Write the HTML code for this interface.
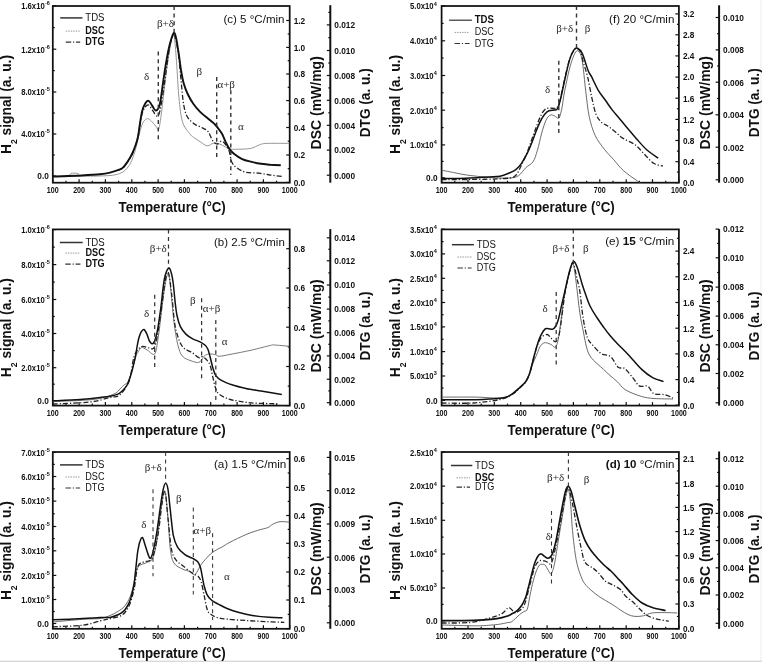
<!DOCTYPE html>
<html><head><meta charset="utf-8"><style>
html,body{margin:0;padding:0;background:#fff;}
body{width:762px;height:662px;overflow:hidden;}
svg{display:block;will-change:transform;}
text{-webkit-font-smoothing:antialiased;}
</style></head><body>
<svg width="762" height="662" viewBox="0 0 762 662">
<rect x="0" y="0" width="762" height="662" fill="#fff"/>
<rect x="760" y="0" width="2" height="662" fill="#f6f6f6"/>
<rect x="0" y="660.6" width="762" height="1.4" fill="#dadada"/>
<rect x="52.8" y="6" width="236.9" height="176.7" fill="none" stroke="#111" stroke-width="1.75"/>
<line x1="52.8" y1="182.7" x2="52.8" y2="179.2" stroke="#111" stroke-width="1.2"/>
<text x="52.8" y="192.8" font-size="9.4" font-weight="bold" font-family='"Liberation Sans", sans-serif' text-anchor="middle" fill="#111" textLength="11.9" lengthAdjust="spacingAndGlyphs">100</text>
<line x1="66" y1="182.7" x2="66" y2="180.7" stroke="#111" stroke-width="1.2"/>
<line x1="79.1" y1="182.7" x2="79.1" y2="179.2" stroke="#111" stroke-width="1.2"/>
<text x="79.1" y="192.8" font-size="9.4" font-weight="bold" font-family='"Liberation Sans", sans-serif' text-anchor="middle" fill="#111" textLength="11.9" lengthAdjust="spacingAndGlyphs">200</text>
<line x1="92.3" y1="182.7" x2="92.3" y2="180.7" stroke="#111" stroke-width="1.2"/>
<line x1="105.4" y1="182.7" x2="105.4" y2="179.2" stroke="#111" stroke-width="1.2"/>
<text x="105.4" y="192.8" font-size="9.4" font-weight="bold" font-family='"Liberation Sans", sans-serif' text-anchor="middle" fill="#111" textLength="11.9" lengthAdjust="spacingAndGlyphs">300</text>
<line x1="118.6" y1="182.7" x2="118.6" y2="180.7" stroke="#111" stroke-width="1.2"/>
<line x1="131.8" y1="182.7" x2="131.8" y2="179.2" stroke="#111" stroke-width="1.2"/>
<text x="131.8" y="192.8" font-size="9.4" font-weight="bold" font-family='"Liberation Sans", sans-serif' text-anchor="middle" fill="#111" textLength="11.9" lengthAdjust="spacingAndGlyphs">400</text>
<line x1="144.9" y1="182.7" x2="144.9" y2="180.7" stroke="#111" stroke-width="1.2"/>
<line x1="158.1" y1="182.7" x2="158.1" y2="179.2" stroke="#111" stroke-width="1.2"/>
<text x="158.1" y="192.8" font-size="9.4" font-weight="bold" font-family='"Liberation Sans", sans-serif' text-anchor="middle" fill="#111" textLength="11.9" lengthAdjust="spacingAndGlyphs">500</text>
<line x1="171.2" y1="182.7" x2="171.2" y2="180.7" stroke="#111" stroke-width="1.2"/>
<line x1="184.4" y1="182.7" x2="184.4" y2="179.2" stroke="#111" stroke-width="1.2"/>
<text x="184.4" y="192.8" font-size="9.4" font-weight="bold" font-family='"Liberation Sans", sans-serif' text-anchor="middle" fill="#111" textLength="11.9" lengthAdjust="spacingAndGlyphs">600</text>
<line x1="197.6" y1="182.7" x2="197.6" y2="180.7" stroke="#111" stroke-width="1.2"/>
<line x1="210.7" y1="182.7" x2="210.7" y2="179.2" stroke="#111" stroke-width="1.2"/>
<text x="210.7" y="192.8" font-size="9.4" font-weight="bold" font-family='"Liberation Sans", sans-serif' text-anchor="middle" fill="#111" textLength="11.9" lengthAdjust="spacingAndGlyphs">700</text>
<line x1="223.9" y1="182.7" x2="223.9" y2="180.7" stroke="#111" stroke-width="1.2"/>
<line x1="237.1" y1="182.7" x2="237.1" y2="179.2" stroke="#111" stroke-width="1.2"/>
<text x="237.1" y="192.8" font-size="9.4" font-weight="bold" font-family='"Liberation Sans", sans-serif' text-anchor="middle" fill="#111" textLength="11.9" lengthAdjust="spacingAndGlyphs">800</text>
<line x1="250.2" y1="182.7" x2="250.2" y2="180.7" stroke="#111" stroke-width="1.2"/>
<line x1="263.4" y1="182.7" x2="263.4" y2="179.2" stroke="#111" stroke-width="1.2"/>
<text x="263.4" y="192.8" font-size="9.4" font-weight="bold" font-family='"Liberation Sans", sans-serif' text-anchor="middle" fill="#111" textLength="11.9" lengthAdjust="spacingAndGlyphs">900</text>
<line x1="276.5" y1="182.7" x2="276.5" y2="180.7" stroke="#111" stroke-width="1.2"/>
<line x1="289.7" y1="182.7" x2="289.7" y2="179.2" stroke="#111" stroke-width="1.2"/>
<text x="289.7" y="192.8" font-size="9.4" font-weight="bold" font-family='"Liberation Sans", sans-serif' text-anchor="middle" fill="#111" textLength="15.8" lengthAdjust="spacingAndGlyphs">1000</text>
<text x="172.2" y="211.8" font-size="14.4" font-weight="bold" font-family='"Liberation Sans", sans-serif' text-anchor="middle" fill="#111" textLength="107.2" lengthAdjust="spacingAndGlyphs">Temperature (°C)</text>
<text x="48.8" y="179.3" font-size="9.4" font-weight="bold" font-family='"Liberation Sans", sans-serif' text-anchor="end" fill="#111" textLength="11.5" lengthAdjust="spacingAndGlyphs">0.0</text>
<line x1="52.8" y1="176" x2="56.3" y2="176" stroke="#111" stroke-width="1.2"/>
<text x="44.7" y="137.3" font-size="9.4" font-weight="bold" font-family='"Liberation Sans", sans-serif' text-anchor="end" fill="#111" textLength="23.5" lengthAdjust="spacingAndGlyphs">4.0x10</text>
<text x="44.9" y="133.4" font-size="5.5" font-weight="bold" font-family='"Liberation Sans", sans-serif' text-anchor="start" fill="#111">-5</text>
<line x1="52.8" y1="134" x2="56.3" y2="134" stroke="#111" stroke-width="1.2"/>
<text x="44.7" y="95.3" font-size="9.4" font-weight="bold" font-family='"Liberation Sans", sans-serif' text-anchor="end" fill="#111" textLength="23.5" lengthAdjust="spacingAndGlyphs">8.0x10</text>
<text x="44.9" y="91.4" font-size="5.5" font-weight="bold" font-family='"Liberation Sans", sans-serif' text-anchor="start" fill="#111">-5</text>
<line x1="52.8" y1="92" x2="56.3" y2="92" stroke="#111" stroke-width="1.2"/>
<text x="44.7" y="52.5" font-size="9.4" font-weight="bold" font-family='"Liberation Sans", sans-serif' text-anchor="end" fill="#111" textLength="23.5" lengthAdjust="spacingAndGlyphs">1.2x10</text>
<text x="44.9" y="48.6" font-size="5.5" font-weight="bold" font-family='"Liberation Sans", sans-serif' text-anchor="start" fill="#111">-6</text>
<line x1="52.8" y1="49.2" x2="56.3" y2="49.2" stroke="#111" stroke-width="1.2"/>
<text x="44.7" y="9.3" font-size="9.4" font-weight="bold" font-family='"Liberation Sans", sans-serif' text-anchor="end" fill="#111" textLength="23.5" lengthAdjust="spacingAndGlyphs">1.6x10</text>
<text x="44.9" y="5.4" font-size="5.5" font-weight="bold" font-family='"Liberation Sans", sans-serif' text-anchor="start" fill="#111">-6</text>
<line x1="52.8" y1="6" x2="56.3" y2="6" stroke="#111" stroke-width="1.2"/>
<line x1="52.8" y1="155" x2="54.8" y2="155" stroke="#111" stroke-width="1.2"/>
<line x1="52.8" y1="113" x2="54.8" y2="113" stroke="#111" stroke-width="1.2"/>
<line x1="52.8" y1="70.6" x2="54.8" y2="70.6" stroke="#111" stroke-width="1.2"/>
<line x1="52.8" y1="27.6" x2="54.8" y2="27.6" stroke="#111" stroke-width="1.2"/>
<text transform="translate(10.8 104.5) rotate(-90)" font-size="14.4" font-weight="bold" font-family='"Liberation Sans", sans-serif' text-anchor="middle" fill="#111" textLength="99" lengthAdjust="spacingAndGlyphs">H<tspan font-size="9" dy="5.9">2</tspan><tspan dy="-5.9"> signal (a. u.)</tspan></text>
<text x="293.7" y="185.7" font-size="9.4" font-weight="bold" font-family='"Liberation Sans", sans-serif' text-anchor="start" fill="#111" textLength="11.5" lengthAdjust="spacingAndGlyphs">0.0</text>
<line x1="289.7" y1="182.4" x2="286.2" y2="182.4" stroke="#111" stroke-width="1.2"/>
<text x="293.7" y="158.3" font-size="9.4" font-weight="bold" font-family='"Liberation Sans", sans-serif' text-anchor="start" fill="#111" textLength="11.5" lengthAdjust="spacingAndGlyphs">0.2</text>
<line x1="289.7" y1="155" x2="286.2" y2="155" stroke="#111" stroke-width="1.2"/>
<text x="293.7" y="130.8" font-size="9.4" font-weight="bold" font-family='"Liberation Sans", sans-serif' text-anchor="start" fill="#111" textLength="11.5" lengthAdjust="spacingAndGlyphs">0.4</text>
<line x1="289.7" y1="127.5" x2="286.2" y2="127.5" stroke="#111" stroke-width="1.2"/>
<text x="293.7" y="103.9" font-size="9.4" font-weight="bold" font-family='"Liberation Sans", sans-serif' text-anchor="start" fill="#111" textLength="11.5" lengthAdjust="spacingAndGlyphs">0.6</text>
<line x1="289.7" y1="100.6" x2="286.2" y2="100.6" stroke="#111" stroke-width="1.2"/>
<text x="293.7" y="77.3" font-size="9.4" font-weight="bold" font-family='"Liberation Sans", sans-serif' text-anchor="start" fill="#111" textLength="11.5" lengthAdjust="spacingAndGlyphs">0.8</text>
<line x1="289.7" y1="74" x2="286.2" y2="74" stroke="#111" stroke-width="1.2"/>
<text x="293.7" y="50.7" font-size="9.4" font-weight="bold" font-family='"Liberation Sans", sans-serif' text-anchor="start" fill="#111" textLength="11.5" lengthAdjust="spacingAndGlyphs">1.0</text>
<line x1="289.7" y1="47.4" x2="286.2" y2="47.4" stroke="#111" stroke-width="1.2"/>
<text x="293.7" y="23.8" font-size="9.4" font-weight="bold" font-family='"Liberation Sans", sans-serif' text-anchor="start" fill="#111" textLength="11.5" lengthAdjust="spacingAndGlyphs">1.2</text>
<line x1="289.7" y1="20.5" x2="286.2" y2="20.5" stroke="#111" stroke-width="1.2"/>
<line x1="289.7" y1="168.7" x2="287.7" y2="168.7" stroke="#111" stroke-width="1.2"/>
<line x1="289.7" y1="141.2" x2="287.7" y2="141.2" stroke="#111" stroke-width="1.2"/>
<line x1="289.7" y1="114" x2="287.7" y2="114" stroke="#111" stroke-width="1.2"/>
<line x1="289.7" y1="87.3" x2="287.7" y2="87.3" stroke="#111" stroke-width="1.2"/>
<line x1="289.7" y1="60.7" x2="287.7" y2="60.7" stroke="#111" stroke-width="1.2"/>
<line x1="289.7" y1="34" x2="287.7" y2="34" stroke="#111" stroke-width="1.2"/>
<text transform="translate(321.2 102.8) rotate(-90)" font-size="14.4" font-weight="bold" font-family='"Liberation Sans", sans-serif' text-anchor="middle" fill="#111" textLength="93.2" lengthAdjust="spacingAndGlyphs">DSC (mW/mg)</text>
<line x1="330.3" y1="5.2" x2="330.3" y2="182.7" stroke="#111" stroke-width="2"/>
<text x="334.3" y="178.5" font-size="9.4" font-weight="bold" font-family='"Liberation Sans", sans-serif' text-anchor="start" fill="#111" textLength="20.8" lengthAdjust="spacingAndGlyphs">0.000</text>
<line x1="330.3" y1="175.2" x2="326.8" y2="175.2" stroke="#111" stroke-width="1.2"/>
<text x="334.3" y="153.4" font-size="9.4" font-weight="bold" font-family='"Liberation Sans", sans-serif' text-anchor="start" fill="#111" textLength="20.8" lengthAdjust="spacingAndGlyphs">0.002</text>
<line x1="330.3" y1="150.1" x2="326.8" y2="150.1" stroke="#111" stroke-width="1.2"/>
<text x="334.3" y="128.6" font-size="9.4" font-weight="bold" font-family='"Liberation Sans", sans-serif' text-anchor="start" fill="#111" textLength="20.8" lengthAdjust="spacingAndGlyphs">0.004</text>
<line x1="330.3" y1="125.3" x2="326.8" y2="125.3" stroke="#111" stroke-width="1.2"/>
<text x="334.3" y="103.6" font-size="9.4" font-weight="bold" font-family='"Liberation Sans", sans-serif' text-anchor="start" fill="#111" textLength="20.8" lengthAdjust="spacingAndGlyphs">0.006</text>
<line x1="330.3" y1="100.3" x2="326.8" y2="100.3" stroke="#111" stroke-width="1.2"/>
<text x="334.3" y="78.8" font-size="9.4" font-weight="bold" font-family='"Liberation Sans", sans-serif' text-anchor="start" fill="#111" textLength="20.8" lengthAdjust="spacingAndGlyphs">0.008</text>
<line x1="330.3" y1="75.5" x2="326.8" y2="75.5" stroke="#111" stroke-width="1.2"/>
<text x="334.3" y="53.8" font-size="9.4" font-weight="bold" font-family='"Liberation Sans", sans-serif' text-anchor="start" fill="#111" textLength="20.8" lengthAdjust="spacingAndGlyphs">0.010</text>
<line x1="330.3" y1="50.5" x2="326.8" y2="50.5" stroke="#111" stroke-width="1.2"/>
<text x="334.3" y="28.2" font-size="9.4" font-weight="bold" font-family='"Liberation Sans", sans-serif' text-anchor="start" fill="#111" textLength="20.8" lengthAdjust="spacingAndGlyphs">0.012</text>
<line x1="330.3" y1="24.9" x2="326.8" y2="24.9" stroke="#111" stroke-width="1.2"/>
<line x1="330.3" y1="162.6" x2="328.3" y2="162.6" stroke="#111" stroke-width="1.2"/>
<line x1="330.3" y1="137.7" x2="328.3" y2="137.7" stroke="#111" stroke-width="1.2"/>
<line x1="330.3" y1="112.8" x2="328.3" y2="112.8" stroke="#111" stroke-width="1.2"/>
<line x1="330.3" y1="87.9" x2="328.3" y2="87.9" stroke="#111" stroke-width="1.2"/>
<line x1="330.3" y1="63" x2="328.3" y2="63" stroke="#111" stroke-width="1.2"/>
<line x1="330.3" y1="37.7" x2="328.3" y2="37.7" stroke="#111" stroke-width="1.2"/>
<line x1="330.3" y1="12.4" x2="328.3" y2="12.4" stroke="#111" stroke-width="1.2"/>
<text transform="translate(369.9 102.8) rotate(-90)" font-size="14.4" font-weight="bold" font-family='"Liberation Sans", sans-serif' text-anchor="middle" fill="#111" textLength="69" lengthAdjust="spacingAndGlyphs">DTG (a. u.)</text>
<line x1="60.2" y1="17.9" x2="82.5" y2="17.9" stroke="#333" stroke-width="1.5"/>
<text x="85.3" y="20.9" font-size="10" font-weight="normal" font-family='"Liberation Sans", sans-serif' text-anchor="start" fill="#111" textLength="19.2" lengthAdjust="spacingAndGlyphs">TDS</text>
<line x1="65.7" y1="31.1" x2="80.2" y2="31.1" stroke="#999" stroke-width="1" stroke-dasharray="1.5 1"/>
<text x="85.3" y="34.1" font-size="10" font-weight="bold" font-family='"Liberation Sans", sans-serif' text-anchor="start" fill="#111" textLength="19.2" lengthAdjust="spacingAndGlyphs">DSC</text>
<line x1="65.7" y1="42.1" x2="80.2" y2="42.1" stroke="#333" stroke-width="1.2" stroke-dasharray="5.5 1.8 1.2 1.8"/>
<text x="85.3" y="45.1" font-size="10" font-weight="bold" font-family='"Liberation Sans", sans-serif' text-anchor="start" fill="#111" textLength="19.2" lengthAdjust="spacingAndGlyphs">DTG</text>
<text x="284.5" y="23.1" font-size="11.2" font-family='"Liberation Sans", sans-serif' text-anchor="end" fill="#111" textLength="61.1" lengthAdjust="spacingAndGlyphs"><tspan font-weight="normal">(c) 5 °C/min</tspan></text>
<clipPath id="clipc"><rect x="52.8" y="6" width="236.9" height="176.7"/></clipPath>
<g clip-path="url(#clipc)">
<path d="M52.8 176.5 C55.3 176.5 65 177 68 176.5 C71 176 69.3 174 71 173.5 C72.7 173 76.3 173.1 78 173.5 C79.7 173.9 75.7 175.7 81 176 C86.3 176.3 103.2 176.1 110 175.5 C116.8 174.9 119 173.9 122 172.5 C125 171.1 126.4 169 128 167 C129.6 165 130.4 163.6 131.7 160.6 C133 157.6 134.3 153.5 135.6 149 C136.9 144.5 138.2 137.9 139.4 133.6 C140.6 129.3 141.5 125.7 142.6 123.3 C143.7 120.9 144.8 120.2 145.8 119.4 C146.8 118.7 147.3 118.4 148.4 118.8 C149.5 119.2 151 120.7 152.3 122 C153.6 123.3 155 125.3 156.1 126.5 C157.2 127.7 157.8 131.1 158.7 129.1 C159.6 127.1 160.6 119.1 161.3 114.3 C162 109.5 162.1 107.6 163 100 C163.9 92.4 165.4 78.6 166.8 68.5 C168.2 58.4 170.4 45.1 171.6 39.5 C172.8 33.9 173.2 31.1 174 34.7 C174.8 38.3 175.7 50.8 176.5 61.3 C177.3 71.8 177.9 87.4 178.9 97.5 C179.9 107.6 180.7 115.7 182.5 121.7 C184.3 127.8 187.7 131 189.8 133.8 C191.9 136.6 193.2 136.9 195 138.3 C196.8 139.7 198.6 140.8 200.7 142.1 C202.8 143.3 205.1 145.7 207.3 145.8 C209.5 146 211.9 143.3 213.9 143 C215.9 142.7 217.6 143.4 219.5 144 C221.4 144.6 223.5 146 225.2 146.8 C226.9 147.7 227.1 148.7 229.9 149.1 C232.7 149.5 238.6 149.2 242.2 149.1 C245.8 149 248.8 149 251.6 148.3 C254.4 147.6 256.7 145.7 259.2 144.9 C261.7 144.1 261.7 143.7 266.7 143.4 C271.7 143.2 285.5 143.4 289.3 143.4" fill="none" stroke="#8a8a8a" stroke-width="0.9"/>
<path d="M118 170.5 C118.9 170 122.1 168.8 123.6 167.5 C125.1 166.2 126.1 164.1 127.2 162.5 C128.3 160.9 129.4 159.4 130.3 157.8 C131.2 156.2 131.9 154.8 132.7 153 C133.5 151.2 134.4 148.9 135.1 147 C135.8 145.1 136.3 143.5 136.9 141.5 C137.5 139.5 138 137.4 138.4 135 C138.8 132.6 139 130.5 139.6 127 C140.2 123.5 141.1 117.3 142 114 C142.9 110.7 144.1 108.5 145.2 107 C146.3 105.5 147.5 104.5 148.7 105 C149.9 105.5 150.8 108.2 152.3 110 C153.9 111.8 156.4 117.7 158 116 C159.6 114.3 160.7 107.3 162 100 C163.3 92.7 164.7 81.2 166 72 C167.3 62.8 168.7 51.2 170 45 C171.3 38.8 172.8 34.5 174 35 C175.2 35.5 176.6 43.2 177.5 48 C178.4 52.8 178.9 58.2 179.5 64 C180.1 69.8 180.6 76.2 181.3 83 C182 89.8 182.7 99.2 183.7 104.8 C184.7 110.4 185.5 113.6 187.3 116.8 C189.1 120 192.1 122.2 194.6 124.1 C197.1 125.9 200.2 126.6 202.5 127.9 C204.8 129.2 206.5 129.5 208.2 131.7 C209.9 133.9 211.3 139 212.9 141.1 C214.5 143.2 216.2 144 217.6 144 C219 144 220.1 141.1 221.4 141.1 C222.7 141.1 223.9 142.4 225.2 144 C226.5 145.6 227.9 147.6 229 150.6 C230.1 153.6 230.6 159.1 231.8 161.9 C233.1 164.7 234.2 165.8 236.5 167.5 C238.8 169.2 242.1 171.4 245.9 172.3 C249.7 173.2 255.1 172.7 259.2 173.2 C263.3 173.7 266.7 174.6 270.5 175.1 C274.3 175.6 279.9 176.2 281.8 176.4" fill="none" stroke="#222" stroke-width="1.3" stroke-dasharray="5 2 1.2 2"/>
<path d="M52.8 176.5 C57.6 176.3 73.6 175.9 81.5 175.5 C89.4 175.1 95.2 174.8 100 174.3 C104.8 173.8 106.7 173.4 110 172.6 C113.3 171.8 117.7 170.3 120 169.4 C122.3 168.5 122.4 168.2 123.6 167 C124.8 165.8 126.1 163.8 127.2 162.2 C128.3 160.6 129.4 158.9 130.3 157.3 C131.2 155.7 131.9 154.3 132.7 152.5 C133.5 150.7 134.4 148.4 135.1 146.5 C135.8 144.6 136.3 143 136.9 141 C137.5 139 138 137 138.4 134.5 C138.8 132 139 129.8 139.6 126 C140.2 122.2 141.1 115.5 142 111.7 C142.9 107.9 144.1 105.2 145.2 103.4 C146.3 101.6 147.5 100.4 148.7 100.8 C149.9 101.2 151.2 104.3 152.3 105.9 C153.4 107.5 154.4 110.1 155.5 110.4 C156.6 110.7 157.8 109.6 158.7 107.9 C159.5 106.2 159.6 105.9 160.6 100.1 C161.6 94.3 163 82.2 164.4 73.3 C165.8 64.4 167.5 53.5 169.2 46.8 C170.9 40 173 32.2 174.5 32.8 C176 33.4 177.1 44.3 178.2 50.4 C179.3 56.5 180 64 180.9 69.5 C181.8 75 182.5 79 183.6 83.1 C184.7 87.2 186.1 90.6 187.7 94 C189.3 97.4 191.1 100.6 193.1 103.5 C195.1 106.4 197.2 108.9 199.9 111.6 C202.6 114.3 207 117.6 209.5 119.8 C212 122 213.4 122.9 215 124.5 C216.6 126.1 217.8 127.8 219 129.5 C220.2 131.2 221.2 132.2 222.4 134.5 C223.6 136.8 224.8 140.5 226.1 143 C227.3 145.5 228.5 147.7 229.9 149.6 C231.3 151.5 232.6 152.7 234.6 154.3 C236.6 155.9 239.4 157.8 242.2 159.1 C245 160.4 248.5 161.1 251.6 161.9 C254.7 162.7 257.9 163.3 261 163.8 C264.1 164.3 267.2 164.4 270.5 164.7 C273.8 164.9 279.1 165.2 280.8 165.3" fill="none" stroke="#111" stroke-width="1.9" stroke-linejoin="round"/>
<line x1="158.3" y1="51.6" x2="158.3" y2="139.8" stroke="#333" stroke-width="1.4" stroke-dasharray="4 3.6"/>
<line x1="174.1" y1="6" x2="174.1" y2="33" stroke="#333" stroke-width="1.4" stroke-dasharray="4 3.6"/>
<line x1="216.7" y1="77" x2="216.7" y2="157.2" stroke="#333" stroke-width="1.4" stroke-dasharray="4 3.6"/>
<line x1="230.8" y1="90.2" x2="230.8" y2="175.1" stroke="#333" stroke-width="1.4" stroke-dasharray="4 3.6"/>
</g>
<text x="146.7" y="80" font-size="11" font-weight="normal" font-family='"Liberation Serif", serif' text-anchor="middle" fill="#2a2a2a">δ</text>
<text x="165.5" y="27" font-size="11" font-weight="normal" font-family='"Liberation Serif", serif' text-anchor="middle" fill="#2a2a2a">β+δ</text>
<text x="199.2" y="75" font-size="11" font-weight="normal" font-family='"Liberation Serif", serif' text-anchor="middle" fill="#2a2a2a">β</text>
<text x="226.2" y="88" font-size="11" font-weight="normal" font-family='"Liberation Serif", serif' text-anchor="middle" fill="#2a2a2a">α+β</text>
<text x="240.8" y="129.5" font-size="11" font-weight="normal" font-family='"Liberation Serif", serif' text-anchor="middle" fill="#2a2a2a">α</text>
<rect x="441.6" y="6" width="237.3" height="176.7" fill="none" stroke="#111" stroke-width="1.75"/>
<line x1="441.6" y1="182.7" x2="441.6" y2="179.2" stroke="#111" stroke-width="1.2"/>
<text x="441.6" y="192.8" font-size="9.4" font-weight="bold" font-family='"Liberation Sans", sans-serif' text-anchor="middle" fill="#111" textLength="11.9" lengthAdjust="spacingAndGlyphs">100</text>
<line x1="454.8" y1="182.7" x2="454.8" y2="180.7" stroke="#111" stroke-width="1.2"/>
<line x1="468" y1="182.7" x2="468" y2="179.2" stroke="#111" stroke-width="1.2"/>
<text x="468" y="192.8" font-size="9.4" font-weight="bold" font-family='"Liberation Sans", sans-serif' text-anchor="middle" fill="#111" textLength="11.9" lengthAdjust="spacingAndGlyphs">200</text>
<line x1="481.2" y1="182.7" x2="481.2" y2="180.7" stroke="#111" stroke-width="1.2"/>
<line x1="494.3" y1="182.7" x2="494.3" y2="179.2" stroke="#111" stroke-width="1.2"/>
<text x="494.3" y="192.8" font-size="9.4" font-weight="bold" font-family='"Liberation Sans", sans-serif' text-anchor="middle" fill="#111" textLength="11.9" lengthAdjust="spacingAndGlyphs">300</text>
<line x1="507.5" y1="182.7" x2="507.5" y2="180.7" stroke="#111" stroke-width="1.2"/>
<line x1="520.7" y1="182.7" x2="520.7" y2="179.2" stroke="#111" stroke-width="1.2"/>
<text x="520.7" y="192.8" font-size="9.4" font-weight="bold" font-family='"Liberation Sans", sans-serif' text-anchor="middle" fill="#111" textLength="11.9" lengthAdjust="spacingAndGlyphs">400</text>
<line x1="533.9" y1="182.7" x2="533.9" y2="180.7" stroke="#111" stroke-width="1.2"/>
<line x1="547.1" y1="182.7" x2="547.1" y2="179.2" stroke="#111" stroke-width="1.2"/>
<text x="547.1" y="192.8" font-size="9.4" font-weight="bold" font-family='"Liberation Sans", sans-serif' text-anchor="middle" fill="#111" textLength="11.9" lengthAdjust="spacingAndGlyphs">500</text>
<line x1="560.2" y1="182.7" x2="560.2" y2="180.7" stroke="#111" stroke-width="1.2"/>
<line x1="573.4" y1="182.7" x2="573.4" y2="179.2" stroke="#111" stroke-width="1.2"/>
<text x="573.4" y="192.8" font-size="9.4" font-weight="bold" font-family='"Liberation Sans", sans-serif' text-anchor="middle" fill="#111" textLength="11.9" lengthAdjust="spacingAndGlyphs">600</text>
<line x1="586.6" y1="182.7" x2="586.6" y2="180.7" stroke="#111" stroke-width="1.2"/>
<line x1="599.8" y1="182.7" x2="599.8" y2="179.2" stroke="#111" stroke-width="1.2"/>
<text x="599.8" y="192.8" font-size="9.4" font-weight="bold" font-family='"Liberation Sans", sans-serif' text-anchor="middle" fill="#111" textLength="11.9" lengthAdjust="spacingAndGlyphs">700</text>
<line x1="613" y1="182.7" x2="613" y2="180.7" stroke="#111" stroke-width="1.2"/>
<line x1="626.2" y1="182.7" x2="626.2" y2="179.2" stroke="#111" stroke-width="1.2"/>
<text x="626.2" y="192.8" font-size="9.4" font-weight="bold" font-family='"Liberation Sans", sans-serif' text-anchor="middle" fill="#111" textLength="11.9" lengthAdjust="spacingAndGlyphs">800</text>
<line x1="639.4" y1="182.7" x2="639.4" y2="180.7" stroke="#111" stroke-width="1.2"/>
<line x1="652.5" y1="182.7" x2="652.5" y2="179.2" stroke="#111" stroke-width="1.2"/>
<text x="652.5" y="192.8" font-size="9.4" font-weight="bold" font-family='"Liberation Sans", sans-serif' text-anchor="middle" fill="#111" textLength="11.9" lengthAdjust="spacingAndGlyphs">900</text>
<line x1="665.7" y1="182.7" x2="665.7" y2="180.7" stroke="#111" stroke-width="1.2"/>
<line x1="678.9" y1="182.7" x2="678.9" y2="179.2" stroke="#111" stroke-width="1.2"/>
<text x="678.9" y="192.8" font-size="9.4" font-weight="bold" font-family='"Liberation Sans", sans-serif' text-anchor="middle" fill="#111" textLength="15.8" lengthAdjust="spacingAndGlyphs">1000</text>
<text x="561.2" y="211.8" font-size="14.4" font-weight="bold" font-family='"Liberation Sans", sans-serif' text-anchor="middle" fill="#111" textLength="107.2" lengthAdjust="spacingAndGlyphs">Temperature (°C)</text>
<text x="437.6" y="181.2" font-size="9.4" font-weight="bold" font-family='"Liberation Sans", sans-serif' text-anchor="end" fill="#111" textLength="11.5" lengthAdjust="spacingAndGlyphs">0.0</text>
<line x1="441.6" y1="177.9" x2="445.1" y2="177.9" stroke="#111" stroke-width="1.2"/>
<text x="433.5" y="148.2" font-size="9.4" font-weight="bold" font-family='"Liberation Sans", sans-serif' text-anchor="end" fill="#111" textLength="23.5" lengthAdjust="spacingAndGlyphs">1.0x10</text>
<text x="433.7" y="144.3" font-size="5.5" font-weight="bold" font-family='"Liberation Sans", sans-serif' text-anchor="start" fill="#111">4</text>
<line x1="441.6" y1="144.9" x2="445.1" y2="144.9" stroke="#111" stroke-width="1.2"/>
<text x="433.5" y="113.5" font-size="9.4" font-weight="bold" font-family='"Liberation Sans", sans-serif' text-anchor="end" fill="#111" textLength="23.5" lengthAdjust="spacingAndGlyphs">2.0x10</text>
<text x="433.7" y="109.6" font-size="5.5" font-weight="bold" font-family='"Liberation Sans", sans-serif' text-anchor="start" fill="#111">4</text>
<line x1="441.6" y1="110.2" x2="445.1" y2="110.2" stroke="#111" stroke-width="1.2"/>
<text x="433.5" y="78.8" font-size="9.4" font-weight="bold" font-family='"Liberation Sans", sans-serif' text-anchor="end" fill="#111" textLength="23.5" lengthAdjust="spacingAndGlyphs">3.0x10</text>
<text x="433.7" y="74.9" font-size="5.5" font-weight="bold" font-family='"Liberation Sans", sans-serif' text-anchor="start" fill="#111">4</text>
<line x1="441.6" y1="75.5" x2="445.1" y2="75.5" stroke="#111" stroke-width="1.2"/>
<text x="433.5" y="44.1" font-size="9.4" font-weight="bold" font-family='"Liberation Sans", sans-serif' text-anchor="end" fill="#111" textLength="23.5" lengthAdjust="spacingAndGlyphs">4.0x10</text>
<text x="433.7" y="40.2" font-size="5.5" font-weight="bold" font-family='"Liberation Sans", sans-serif' text-anchor="start" fill="#111">4</text>
<line x1="441.6" y1="40.8" x2="445.1" y2="40.8" stroke="#111" stroke-width="1.2"/>
<text x="433.5" y="9.4" font-size="9.4" font-weight="bold" font-family='"Liberation Sans", sans-serif' text-anchor="end" fill="#111" textLength="23.5" lengthAdjust="spacingAndGlyphs">5.0x10</text>
<text x="433.7" y="5.5" font-size="5.5" font-weight="bold" font-family='"Liberation Sans", sans-serif' text-anchor="start" fill="#111">4</text>
<line x1="441.6" y1="6.1" x2="445.1" y2="6.1" stroke="#111" stroke-width="1.2"/>
<line x1="441.6" y1="161.4" x2="443.6" y2="161.4" stroke="#111" stroke-width="1.2"/>
<line x1="441.6" y1="127.6" x2="443.6" y2="127.6" stroke="#111" stroke-width="1.2"/>
<line x1="441.6" y1="92.8" x2="443.6" y2="92.8" stroke="#111" stroke-width="1.2"/>
<line x1="441.6" y1="58.1" x2="443.6" y2="58.1" stroke="#111" stroke-width="1.2"/>
<line x1="441.6" y1="23.4" x2="443.6" y2="23.4" stroke="#111" stroke-width="1.2"/>
<text transform="translate(400.3 104.5) rotate(-90)" font-size="14.4" font-weight="bold" font-family='"Liberation Sans", sans-serif' text-anchor="middle" fill="#111" textLength="99" lengthAdjust="spacingAndGlyphs">H<tspan font-size="9" dy="5.9">2</tspan><tspan dy="-5.9"> signal (a. u.)</tspan></text>
<text x="682.9" y="185.9" font-size="9.4" font-weight="bold" font-family='"Liberation Sans", sans-serif' text-anchor="start" fill="#111" textLength="11.5" lengthAdjust="spacingAndGlyphs">0.0</text>
<line x1="678.9" y1="182.6" x2="675.4" y2="182.6" stroke="#111" stroke-width="1.2"/>
<text x="682.9" y="165" font-size="9.4" font-weight="bold" font-family='"Liberation Sans", sans-serif' text-anchor="start" fill="#111" textLength="11.5" lengthAdjust="spacingAndGlyphs">0.4</text>
<line x1="678.9" y1="161.7" x2="675.4" y2="161.7" stroke="#111" stroke-width="1.2"/>
<text x="682.9" y="143.8" font-size="9.4" font-weight="bold" font-family='"Liberation Sans", sans-serif' text-anchor="start" fill="#111" textLength="11.5" lengthAdjust="spacingAndGlyphs">0.8</text>
<line x1="678.9" y1="140.5" x2="675.4" y2="140.5" stroke="#111" stroke-width="1.2"/>
<text x="682.9" y="122.7" font-size="9.4" font-weight="bold" font-family='"Liberation Sans", sans-serif' text-anchor="start" fill="#111" textLength="11.5" lengthAdjust="spacingAndGlyphs">1.2</text>
<line x1="678.9" y1="119.4" x2="675.4" y2="119.4" stroke="#111" stroke-width="1.2"/>
<text x="682.9" y="101.5" font-size="9.4" font-weight="bold" font-family='"Liberation Sans", sans-serif' text-anchor="start" fill="#111" textLength="11.5" lengthAdjust="spacingAndGlyphs">1.6</text>
<line x1="678.9" y1="98.2" x2="675.4" y2="98.2" stroke="#111" stroke-width="1.2"/>
<text x="682.9" y="80.4" font-size="9.4" font-weight="bold" font-family='"Liberation Sans", sans-serif' text-anchor="start" fill="#111" textLength="11.5" lengthAdjust="spacingAndGlyphs">2.0</text>
<line x1="678.9" y1="77.1" x2="675.4" y2="77.1" stroke="#111" stroke-width="1.2"/>
<text x="682.9" y="59.2" font-size="9.4" font-weight="bold" font-family='"Liberation Sans", sans-serif' text-anchor="start" fill="#111" textLength="11.5" lengthAdjust="spacingAndGlyphs">2.4</text>
<line x1="678.9" y1="55.9" x2="675.4" y2="55.9" stroke="#111" stroke-width="1.2"/>
<text x="682.9" y="38.1" font-size="9.4" font-weight="bold" font-family='"Liberation Sans", sans-serif' text-anchor="start" fill="#111" textLength="11.5" lengthAdjust="spacingAndGlyphs">2.8</text>
<line x1="678.9" y1="34.8" x2="675.4" y2="34.8" stroke="#111" stroke-width="1.2"/>
<text x="682.9" y="17.2" font-size="9.4" font-weight="bold" font-family='"Liberation Sans", sans-serif' text-anchor="start" fill="#111" textLength="11.5" lengthAdjust="spacingAndGlyphs">3.2</text>
<line x1="678.9" y1="13.9" x2="675.4" y2="13.9" stroke="#111" stroke-width="1.2"/>
<line x1="678.9" y1="172.1" x2="676.9" y2="172.1" stroke="#111" stroke-width="1.2"/>
<line x1="678.9" y1="151.1" x2="676.9" y2="151.1" stroke="#111" stroke-width="1.2"/>
<line x1="678.9" y1="129.9" x2="676.9" y2="129.9" stroke="#111" stroke-width="1.2"/>
<line x1="678.9" y1="108.8" x2="676.9" y2="108.8" stroke="#111" stroke-width="1.2"/>
<line x1="678.9" y1="87.7" x2="676.9" y2="87.7" stroke="#111" stroke-width="1.2"/>
<line x1="678.9" y1="66.5" x2="676.9" y2="66.5" stroke="#111" stroke-width="1.2"/>
<line x1="678.9" y1="45.3" x2="676.9" y2="45.3" stroke="#111" stroke-width="1.2"/>
<line x1="678.9" y1="24.3" x2="676.9" y2="24.3" stroke="#111" stroke-width="1.2"/>
<text transform="translate(710.4 102.8) rotate(-90)" font-size="14.4" font-weight="bold" font-family='"Liberation Sans", sans-serif' text-anchor="middle" fill="#111" textLength="93.2" lengthAdjust="spacingAndGlyphs">DSC (mW/mg)</text>
<line x1="719.1" y1="5.3" x2="719.1" y2="182.7" stroke="#111" stroke-width="2"/>
<text x="723.1" y="183.1" font-size="9.4" font-weight="bold" font-family='"Liberation Sans", sans-serif' text-anchor="start" fill="#111" textLength="20.8" lengthAdjust="spacingAndGlyphs">0.000</text>
<line x1="719.1" y1="179.8" x2="715.6" y2="179.8" stroke="#111" stroke-width="1.2"/>
<text x="723.1" y="150.5" font-size="9.4" font-weight="bold" font-family='"Liberation Sans", sans-serif' text-anchor="start" fill="#111" textLength="20.8" lengthAdjust="spacingAndGlyphs">0.002</text>
<line x1="719.1" y1="147.2" x2="715.6" y2="147.2" stroke="#111" stroke-width="1.2"/>
<text x="723.1" y="118.1" font-size="9.4" font-weight="bold" font-family='"Liberation Sans", sans-serif' text-anchor="start" fill="#111" textLength="20.8" lengthAdjust="spacingAndGlyphs">0.004</text>
<line x1="719.1" y1="114.8" x2="715.6" y2="114.8" stroke="#111" stroke-width="1.2"/>
<text x="723.1" y="85.5" font-size="9.4" font-weight="bold" font-family='"Liberation Sans", sans-serif' text-anchor="start" fill="#111" textLength="20.8" lengthAdjust="spacingAndGlyphs">0.006</text>
<line x1="719.1" y1="82.2" x2="715.6" y2="82.2" stroke="#111" stroke-width="1.2"/>
<text x="723.1" y="53.2" font-size="9.4" font-weight="bold" font-family='"Liberation Sans", sans-serif' text-anchor="start" fill="#111" textLength="20.8" lengthAdjust="spacingAndGlyphs">0.008</text>
<line x1="719.1" y1="49.9" x2="715.6" y2="49.9" stroke="#111" stroke-width="1.2"/>
<text x="723.1" y="20.8" font-size="9.4" font-weight="bold" font-family='"Liberation Sans", sans-serif' text-anchor="start" fill="#111" textLength="20.8" lengthAdjust="spacingAndGlyphs">0.010</text>
<line x1="719.1" y1="17.5" x2="715.6" y2="17.5" stroke="#111" stroke-width="1.2"/>
<line x1="719.1" y1="163.5" x2="717.1" y2="163.5" stroke="#111" stroke-width="1.2"/>
<line x1="719.1" y1="131" x2="717.1" y2="131" stroke="#111" stroke-width="1.2"/>
<line x1="719.1" y1="98.5" x2="717.1" y2="98.5" stroke="#111" stroke-width="1.2"/>
<line x1="719.1" y1="66" x2="717.1" y2="66" stroke="#111" stroke-width="1.2"/>
<line x1="719.1" y1="33.7" x2="717.1" y2="33.7" stroke="#111" stroke-width="1.2"/>
<text transform="translate(758.7 102.8) rotate(-90)" font-size="14.4" font-weight="bold" font-family='"Liberation Sans", sans-serif' text-anchor="middle" fill="#111" textLength="69" lengthAdjust="spacingAndGlyphs">DTG (a. u.)</text>
<line x1="449.1" y1="20.2" x2="471.9" y2="20.2" stroke="#333" stroke-width="1.2"/>
<text x="474.7" y="23.2" font-size="10" font-weight="bold" font-family='"Liberation Sans", sans-serif' text-anchor="start" fill="#111" textLength="19.2" lengthAdjust="spacingAndGlyphs">TDS</text>
<line x1="454.6" y1="32.4" x2="469.6" y2="32.4" stroke="#999" stroke-width="1" stroke-dasharray="1.5 1"/>
<text x="474.7" y="35.4" font-size="10" font-weight="normal" font-family='"Liberation Sans", sans-serif' text-anchor="start" fill="#111" textLength="19.2" lengthAdjust="spacingAndGlyphs">DSC</text>
<line x1="454.6" y1="43.5" x2="469.6" y2="43.5" stroke="#333" stroke-width="1.2" stroke-dasharray="5.5 1.8 1.2 1.8"/>
<text x="474.7" y="46.5" font-size="10" font-weight="normal" font-family='"Liberation Sans", sans-serif' text-anchor="start" fill="#111" textLength="19.2" lengthAdjust="spacingAndGlyphs">DTG</text>
<text x="674.4" y="23.1" font-size="11.2" font-family='"Liberation Sans", sans-serif' text-anchor="end" fill="#111" textLength="65.3" lengthAdjust="spacingAndGlyphs"><tspan font-weight="normal">(f) 20 °C/min</tspan></text>
<clipPath id="clipf"><rect x="441.6" y="6" width="237.3" height="176.7"/></clipPath>
<g clip-path="url(#clipf)">
<path d="M441.6 170.2 C443.8 170.6 450.8 172 455 172.8 C459.2 173.6 460.9 174.2 466.7 175 C472.5 175.8 482.8 177 490 177.5 C497.2 178 505.2 178.3 510 178 C514.8 177.7 516.1 177.2 518.7 175.5 C521.4 173.8 523.5 169.9 525.9 167.6 C528.3 165.3 531.1 164.7 533 161.8 C534.9 158.9 535.9 155.1 537.4 150.3 C538.9 145.5 540.3 138.1 541.7 133.1 C543.1 128.1 544.6 123.2 546 120.2 C547.4 117.2 548.9 115.8 550.3 115.1 C551.7 114.4 553.2 115.4 554.6 115.9 C556 116.4 557.7 119.2 558.9 118 C560.1 116.8 560.8 113.2 561.8 108.7 C562.8 104.2 563.2 98.1 564.7 90.8 C566.2 83.5 568.5 71.7 570.5 65.1 C572.5 58.5 574.6 52.7 576.4 51.1 C578.2 49.5 579.9 52.6 581.1 55.7 C582.3 58.8 582.6 63.9 583.4 69.8 C584.2 75.6 584.7 83 585.7 90.8 C586.7 98.6 587.6 109.1 589.2 116.5 C590.8 123.9 592.6 129.8 595.1 135.3 C597.6 140.8 601.3 145.2 604.4 149.3 C607.5 153.4 610.7 156.3 613.8 159.8 C616.9 163.3 619.3 166.9 623.2 170.4 C627.1 173.9 633.6 178.3 637.2 180.9 C640.8 183.5 643.7 185.2 645 186" fill="none" stroke="#5a5a5a" stroke-width="0.9"/>
<path d="M441.6 179.5 C446.3 179.5 459.4 179.7 470 179.5 C480.6 179.3 497.5 179.1 505 178.5 C512.5 177.9 512.2 178.2 515 176 C517.8 173.8 519.5 169 521.5 165 C523.5 161 525.6 156.2 527.3 152 C529 147.8 530.2 144 531.6 140 C533 136 534.5 131.8 535.9 128 C537.3 124.2 538.8 120 540.2 117 C541.6 114 543 111.5 544.5 110 C546 108.5 547.2 108.2 548.9 108 C550.6 107.8 553.2 108.7 554.6 108.5 C556 108.3 556.5 108.6 557.5 107 C558.5 105.4 559.1 103.7 560.3 99 C561.5 94.3 563.2 85.5 564.7 79 C566.2 72.5 567.9 64.8 569.4 60 C570.9 55.2 572.6 51.9 574 50 C575.4 48.1 576.4 48.2 577.5 48.5 C578.6 48.8 579.5 49.6 580.5 52 C581.5 54.4 582.2 58.5 583.4 62.7 C584.6 66.9 586.3 71.4 587.7 77.2 C589.1 83 590.4 91.5 591.8 97.6 C593.2 103.7 594.3 109.8 595.9 113.9 C597.5 118 599.3 120 601.3 122.1 C603.3 124.1 605.8 124.6 608.1 126.2 C610.4 127.8 612.4 129.6 614.9 131.6 C617.4 133.6 619.8 136.2 623.1 138.4 C626.4 140.6 631.4 142 634.9 144.6 C638.4 147.2 641.1 150.9 644.2 154 C647.3 157.1 650.5 161.3 653.6 163.3 C656.7 165.3 661.4 165.6 662.9 166.1" fill="none" stroke="#222" stroke-width="1.3" stroke-dasharray="5 2 1.2 2"/>
<path d="M441.6 178.3 C443.8 178.3 450.3 178.6 455 178.5 C459.7 178.4 464.3 178.2 470 178 C475.7 177.8 484 177.3 489 177 C494 176.7 496.7 176.8 500 176.2 C503.3 175.6 506 174.4 508.6 173.3 C511.2 172.2 513.6 171.4 515.8 169.7 C517.9 168 519.6 166.1 521.5 163.3 C523.4 160.6 525.6 156.5 527.3 153.2 C529 149.8 530.2 146.8 531.6 143.2 C533 139.6 534.5 135.3 535.9 131.7 C537.3 128.1 538.8 124.5 540.2 121.6 C541.6 118.7 543 116.2 544.5 114.4 C546 112.6 547.2 111.5 548.9 110.8 C550.6 110.1 553.2 110.4 554.6 110.1 C556 109.8 556.5 110.4 557.5 108.7 C558.5 107 559.1 104.8 560.3 100 C561.5 95.2 563.2 86.6 564.7 80 C566.2 73.4 567.9 65.4 569.4 60.4 C570.9 55.4 572.6 51.9 574 49.9 C575.4 47.9 576.1 47.6 577.5 48.2 C578.9 48.8 580.4 49.7 582.2 53.4 C584 57.1 586.5 66.5 588.1 70.5 C589.7 74.5 590 73.8 591.8 77.2 C593.5 80.6 596.3 87 598.6 90.8 C600.9 94.6 603.1 97.1 605.4 100.3 C607.7 103.5 609.9 107 612.2 109.9 C614.5 112.9 616.7 115.3 619 118 C621.3 120.7 622.7 122.6 625.8 126.2 C628.9 129.8 633.9 135.8 637.4 139.8 C640.9 143.8 643.5 146.9 647 150 C650.5 153.1 656.3 156.8 658.2 158.2" fill="none" stroke="#111" stroke-width="1.5" stroke-linejoin="round"/>
<line x1="558.8" y1="60.7" x2="558.8" y2="134.5" stroke="#333" stroke-width="1.4" stroke-dasharray="4 3.6"/>
<line x1="576.5" y1="6" x2="576.5" y2="48.5" stroke="#333" stroke-width="1.4" stroke-dasharray="4 3.6"/>
</g>
<text x="547.6" y="92.5" font-size="11" font-weight="normal" font-family='"Liberation Serif", serif' text-anchor="middle" fill="#2a2a2a">δ</text>
<text x="564.7" y="31.5" font-size="11" font-weight="normal" font-family='"Liberation Serif", serif' text-anchor="middle" fill="#2a2a2a">β+δ</text>
<text x="587.6" y="31.5" font-size="11" font-weight="normal" font-family='"Liberation Serif", serif' text-anchor="middle" fill="#2a2a2a">β</text>
<rect x="52.8" y="229.4" width="236.9" height="176.2" fill="none" stroke="#111" stroke-width="1.75"/>
<line x1="52.8" y1="405.6" x2="52.8" y2="402.1" stroke="#111" stroke-width="1.2"/>
<text x="52.8" y="415.7" font-size="9.4" font-weight="bold" font-family='"Liberation Sans", sans-serif' text-anchor="middle" fill="#111" textLength="11.9" lengthAdjust="spacingAndGlyphs">100</text>
<line x1="66" y1="405.6" x2="66" y2="403.6" stroke="#111" stroke-width="1.2"/>
<line x1="79.1" y1="405.6" x2="79.1" y2="402.1" stroke="#111" stroke-width="1.2"/>
<text x="79.1" y="415.7" font-size="9.4" font-weight="bold" font-family='"Liberation Sans", sans-serif' text-anchor="middle" fill="#111" textLength="11.9" lengthAdjust="spacingAndGlyphs">200</text>
<line x1="92.3" y1="405.6" x2="92.3" y2="403.6" stroke="#111" stroke-width="1.2"/>
<line x1="105.4" y1="405.6" x2="105.4" y2="402.1" stroke="#111" stroke-width="1.2"/>
<text x="105.4" y="415.7" font-size="9.4" font-weight="bold" font-family='"Liberation Sans", sans-serif' text-anchor="middle" fill="#111" textLength="11.9" lengthAdjust="spacingAndGlyphs">300</text>
<line x1="118.6" y1="405.6" x2="118.6" y2="403.6" stroke="#111" stroke-width="1.2"/>
<line x1="131.8" y1="405.6" x2="131.8" y2="402.1" stroke="#111" stroke-width="1.2"/>
<text x="131.8" y="415.7" font-size="9.4" font-weight="bold" font-family='"Liberation Sans", sans-serif' text-anchor="middle" fill="#111" textLength="11.9" lengthAdjust="spacingAndGlyphs">400</text>
<line x1="144.9" y1="405.6" x2="144.9" y2="403.6" stroke="#111" stroke-width="1.2"/>
<line x1="158.1" y1="405.6" x2="158.1" y2="402.1" stroke="#111" stroke-width="1.2"/>
<text x="158.1" y="415.7" font-size="9.4" font-weight="bold" font-family='"Liberation Sans", sans-serif' text-anchor="middle" fill="#111" textLength="11.9" lengthAdjust="spacingAndGlyphs">500</text>
<line x1="171.2" y1="405.6" x2="171.2" y2="403.6" stroke="#111" stroke-width="1.2"/>
<line x1="184.4" y1="405.6" x2="184.4" y2="402.1" stroke="#111" stroke-width="1.2"/>
<text x="184.4" y="415.7" font-size="9.4" font-weight="bold" font-family='"Liberation Sans", sans-serif' text-anchor="middle" fill="#111" textLength="11.9" lengthAdjust="spacingAndGlyphs">600</text>
<line x1="197.6" y1="405.6" x2="197.6" y2="403.6" stroke="#111" stroke-width="1.2"/>
<line x1="210.7" y1="405.6" x2="210.7" y2="402.1" stroke="#111" stroke-width="1.2"/>
<text x="210.7" y="415.7" font-size="9.4" font-weight="bold" font-family='"Liberation Sans", sans-serif' text-anchor="middle" fill="#111" textLength="11.9" lengthAdjust="spacingAndGlyphs">700</text>
<line x1="223.9" y1="405.6" x2="223.9" y2="403.6" stroke="#111" stroke-width="1.2"/>
<line x1="237.1" y1="405.6" x2="237.1" y2="402.1" stroke="#111" stroke-width="1.2"/>
<text x="237.1" y="415.7" font-size="9.4" font-weight="bold" font-family='"Liberation Sans", sans-serif' text-anchor="middle" fill="#111" textLength="11.9" lengthAdjust="spacingAndGlyphs">800</text>
<line x1="250.2" y1="405.6" x2="250.2" y2="403.6" stroke="#111" stroke-width="1.2"/>
<line x1="263.4" y1="405.6" x2="263.4" y2="402.1" stroke="#111" stroke-width="1.2"/>
<text x="263.4" y="415.7" font-size="9.4" font-weight="bold" font-family='"Liberation Sans", sans-serif' text-anchor="middle" fill="#111" textLength="11.9" lengthAdjust="spacingAndGlyphs">900</text>
<line x1="276.5" y1="405.6" x2="276.5" y2="403.6" stroke="#111" stroke-width="1.2"/>
<line x1="289.7" y1="405.6" x2="289.7" y2="402.1" stroke="#111" stroke-width="1.2"/>
<text x="289.7" y="415.7" font-size="9.4" font-weight="bold" font-family='"Liberation Sans", sans-serif' text-anchor="middle" fill="#111" textLength="15.8" lengthAdjust="spacingAndGlyphs">1000</text>
<text x="172.2" y="434.7" font-size="14.4" font-weight="bold" font-family='"Liberation Sans", sans-serif' text-anchor="middle" fill="#111" textLength="107.2" lengthAdjust="spacingAndGlyphs">Temperature (°C)</text>
<text x="48.8" y="404" font-size="9.4" font-weight="bold" font-family='"Liberation Sans", sans-serif' text-anchor="end" fill="#111" textLength="11.5" lengthAdjust="spacingAndGlyphs">0.0</text>
<line x1="52.8" y1="400.7" x2="56.3" y2="400.7" stroke="#111" stroke-width="1.2"/>
<text x="44.7" y="371" font-size="9.4" font-weight="bold" font-family='"Liberation Sans", sans-serif' text-anchor="end" fill="#111" textLength="23.5" lengthAdjust="spacingAndGlyphs">2.0x10</text>
<text x="44.9" y="367.1" font-size="5.5" font-weight="bold" font-family='"Liberation Sans", sans-serif' text-anchor="start" fill="#111">-5</text>
<line x1="52.8" y1="367.7" x2="56.3" y2="367.7" stroke="#111" stroke-width="1.2"/>
<text x="44.7" y="336.8" font-size="9.4" font-weight="bold" font-family='"Liberation Sans", sans-serif' text-anchor="end" fill="#111" textLength="23.5" lengthAdjust="spacingAndGlyphs">4.0x10</text>
<text x="44.9" y="332.9" font-size="5.5" font-weight="bold" font-family='"Liberation Sans", sans-serif' text-anchor="start" fill="#111">-5</text>
<line x1="52.8" y1="333.5" x2="56.3" y2="333.5" stroke="#111" stroke-width="1.2"/>
<text x="44.7" y="302.8" font-size="9.4" font-weight="bold" font-family='"Liberation Sans", sans-serif' text-anchor="end" fill="#111" textLength="23.5" lengthAdjust="spacingAndGlyphs">6.0x10</text>
<text x="44.9" y="298.9" font-size="5.5" font-weight="bold" font-family='"Liberation Sans", sans-serif' text-anchor="start" fill="#111">-5</text>
<line x1="52.8" y1="299.5" x2="56.3" y2="299.5" stroke="#111" stroke-width="1.2"/>
<text x="44.7" y="267.9" font-size="9.4" font-weight="bold" font-family='"Liberation Sans", sans-serif' text-anchor="end" fill="#111" textLength="23.5" lengthAdjust="spacingAndGlyphs">8.0x10</text>
<text x="44.9" y="264" font-size="5.5" font-weight="bold" font-family='"Liberation Sans", sans-serif' text-anchor="start" fill="#111">-5</text>
<line x1="52.8" y1="264.6" x2="56.3" y2="264.6" stroke="#111" stroke-width="1.2"/>
<text x="44.7" y="232.9" font-size="9.4" font-weight="bold" font-family='"Liberation Sans", sans-serif' text-anchor="end" fill="#111" textLength="23.5" lengthAdjust="spacingAndGlyphs">1.0x10</text>
<text x="44.9" y="229" font-size="5.5" font-weight="bold" font-family='"Liberation Sans", sans-serif' text-anchor="start" fill="#111">-6</text>
<line x1="52.8" y1="229.6" x2="56.3" y2="229.6" stroke="#111" stroke-width="1.2"/>
<line x1="52.8" y1="384.2" x2="54.8" y2="384.2" stroke="#111" stroke-width="1.2"/>
<line x1="52.8" y1="350.6" x2="54.8" y2="350.6" stroke="#111" stroke-width="1.2"/>
<line x1="52.8" y1="316.5" x2="54.8" y2="316.5" stroke="#111" stroke-width="1.2"/>
<line x1="52.8" y1="282.1" x2="54.8" y2="282.1" stroke="#111" stroke-width="1.2"/>
<line x1="52.8" y1="247.1" x2="54.8" y2="247.1" stroke="#111" stroke-width="1.2"/>
<text transform="translate(10.8 327.7) rotate(-90)" font-size="14.4" font-weight="bold" font-family='"Liberation Sans", sans-serif' text-anchor="middle" fill="#111" textLength="99" lengthAdjust="spacingAndGlyphs">H<tspan font-size="9" dy="5.9">2</tspan><tspan dy="-5.9"> signal (a. u.)</tspan></text>
<text x="293.7" y="408.9" font-size="9.4" font-weight="bold" font-family='"Liberation Sans", sans-serif' text-anchor="start" fill="#111" textLength="11.5" lengthAdjust="spacingAndGlyphs">0.0</text>
<line x1="289.7" y1="405.6" x2="286.2" y2="405.6" stroke="#111" stroke-width="1.2"/>
<text x="293.7" y="369.8" font-size="9.4" font-weight="bold" font-family='"Liberation Sans", sans-serif' text-anchor="start" fill="#111" textLength="11.5" lengthAdjust="spacingAndGlyphs">0.2</text>
<line x1="289.7" y1="366.5" x2="286.2" y2="366.5" stroke="#111" stroke-width="1.2"/>
<text x="293.7" y="330.5" font-size="9.4" font-weight="bold" font-family='"Liberation Sans", sans-serif' text-anchor="start" fill="#111" textLength="11.5" lengthAdjust="spacingAndGlyphs">0.4</text>
<line x1="289.7" y1="327.2" x2="286.2" y2="327.2" stroke="#111" stroke-width="1.2"/>
<text x="293.7" y="291.3" font-size="9.4" font-weight="bold" font-family='"Liberation Sans", sans-serif' text-anchor="start" fill="#111" textLength="11.5" lengthAdjust="spacingAndGlyphs">0.6</text>
<line x1="289.7" y1="288" x2="286.2" y2="288" stroke="#111" stroke-width="1.2"/>
<text x="293.7" y="252" font-size="9.4" font-weight="bold" font-family='"Liberation Sans", sans-serif' text-anchor="start" fill="#111" textLength="11.5" lengthAdjust="spacingAndGlyphs">0.8</text>
<line x1="289.7" y1="248.7" x2="286.2" y2="248.7" stroke="#111" stroke-width="1.2"/>
<line x1="289.7" y1="386.1" x2="287.7" y2="386.1" stroke="#111" stroke-width="1.2"/>
<line x1="289.7" y1="346.9" x2="287.7" y2="346.9" stroke="#111" stroke-width="1.2"/>
<line x1="289.7" y1="307.6" x2="287.7" y2="307.6" stroke="#111" stroke-width="1.2"/>
<line x1="289.7" y1="268.4" x2="287.7" y2="268.4" stroke="#111" stroke-width="1.2"/>
<text transform="translate(321.2 326) rotate(-90)" font-size="14.4" font-weight="bold" font-family='"Liberation Sans", sans-serif' text-anchor="middle" fill="#111" textLength="93.2" lengthAdjust="spacingAndGlyphs">DSC (mW/mg)</text>
<line x1="330.3" y1="229.1" x2="330.3" y2="405.6" stroke="#111" stroke-width="2"/>
<text x="334.3" y="406" font-size="9.4" font-weight="bold" font-family='"Liberation Sans", sans-serif' text-anchor="start" fill="#111" textLength="20.8" lengthAdjust="spacingAndGlyphs">0.000</text>
<line x1="330.3" y1="402.7" x2="326.8" y2="402.7" stroke="#111" stroke-width="1.2"/>
<text x="334.3" y="382.5" font-size="9.4" font-weight="bold" font-family='"Liberation Sans", sans-serif' text-anchor="start" fill="#111" textLength="20.8" lengthAdjust="spacingAndGlyphs">0.002</text>
<line x1="330.3" y1="379.2" x2="326.8" y2="379.2" stroke="#111" stroke-width="1.2"/>
<text x="334.3" y="359.2" font-size="9.4" font-weight="bold" font-family='"Liberation Sans", sans-serif' text-anchor="start" fill="#111" textLength="20.8" lengthAdjust="spacingAndGlyphs">0.004</text>
<line x1="330.3" y1="355.9" x2="326.8" y2="355.9" stroke="#111" stroke-width="1.2"/>
<text x="334.3" y="336" font-size="9.4" font-weight="bold" font-family='"Liberation Sans", sans-serif' text-anchor="start" fill="#111" textLength="20.8" lengthAdjust="spacingAndGlyphs">0.006</text>
<line x1="330.3" y1="332.7" x2="326.8" y2="332.7" stroke="#111" stroke-width="1.2"/>
<text x="334.3" y="312.4" font-size="9.4" font-weight="bold" font-family='"Liberation Sans", sans-serif' text-anchor="start" fill="#111" textLength="20.8" lengthAdjust="spacingAndGlyphs">0.008</text>
<line x1="330.3" y1="309.1" x2="326.8" y2="309.1" stroke="#111" stroke-width="1.2"/>
<text x="334.3" y="288.3" font-size="9.4" font-weight="bold" font-family='"Liberation Sans", sans-serif' text-anchor="start" fill="#111" textLength="20.8" lengthAdjust="spacingAndGlyphs">0.010</text>
<line x1="330.3" y1="285" x2="326.8" y2="285" stroke="#111" stroke-width="1.2"/>
<text x="334.3" y="264.1" font-size="9.4" font-weight="bold" font-family='"Liberation Sans", sans-serif' text-anchor="start" fill="#111" textLength="20.8" lengthAdjust="spacingAndGlyphs">0.012</text>
<line x1="330.3" y1="260.8" x2="326.8" y2="260.8" stroke="#111" stroke-width="1.2"/>
<text x="334.3" y="241.1" font-size="9.4" font-weight="bold" font-family='"Liberation Sans", sans-serif' text-anchor="start" fill="#111" textLength="20.8" lengthAdjust="spacingAndGlyphs">0.014</text>
<line x1="330.3" y1="237.8" x2="326.8" y2="237.8" stroke="#111" stroke-width="1.2"/>
<line x1="330.3" y1="390.9" x2="328.3" y2="390.9" stroke="#111" stroke-width="1.2"/>
<line x1="330.3" y1="367.5" x2="328.3" y2="367.5" stroke="#111" stroke-width="1.2"/>
<line x1="330.3" y1="344.3" x2="328.3" y2="344.3" stroke="#111" stroke-width="1.2"/>
<line x1="330.3" y1="320.9" x2="328.3" y2="320.9" stroke="#111" stroke-width="1.2"/>
<line x1="330.3" y1="297.1" x2="328.3" y2="297.1" stroke="#111" stroke-width="1.2"/>
<line x1="330.3" y1="272.9" x2="328.3" y2="272.9" stroke="#111" stroke-width="1.2"/>
<line x1="330.3" y1="249.3" x2="328.3" y2="249.3" stroke="#111" stroke-width="1.2"/>
<text transform="translate(369.9 326) rotate(-90)" font-size="14.4" font-weight="bold" font-family='"Liberation Sans", sans-serif' text-anchor="middle" fill="#111" textLength="69" lengthAdjust="spacingAndGlyphs">DTG (a. u.)</text>
<line x1="59.8" y1="242.5" x2="82.7" y2="242.5" stroke="#333" stroke-width="1.5"/>
<text x="85.5" y="245.5" font-size="10" font-weight="normal" font-family='"Liberation Sans", sans-serif' text-anchor="start" fill="#111" textLength="19.2" lengthAdjust="spacingAndGlyphs">TDS</text>
<line x1="65.3" y1="253.1" x2="80.4" y2="253.1" stroke="#999" stroke-width="1" stroke-dasharray="1.5 1"/>
<text x="85.5" y="256.1" font-size="10" font-weight="bold" font-family='"Liberation Sans", sans-serif' text-anchor="start" fill="#111" textLength="19.2" lengthAdjust="spacingAndGlyphs">DSC</text>
<line x1="65.3" y1="264.1" x2="80.4" y2="264.1" stroke="#333" stroke-width="1.2" stroke-dasharray="5.5 1.8 1.2 1.8"/>
<text x="85.5" y="267.1" font-size="10" font-weight="bold" font-family='"Liberation Sans", sans-serif' text-anchor="start" fill="#111" textLength="19.2" lengthAdjust="spacingAndGlyphs">DTG</text>
<text x="284.8" y="246.1" font-size="11.2" font-family='"Liberation Sans", sans-serif' text-anchor="end" fill="#111" textLength="70.8" lengthAdjust="spacingAndGlyphs"><tspan font-weight="normal">(b) 2.5 °C/min</tspan></text>
<clipPath id="clipb"><rect x="52.8" y="229.4" width="236.9" height="176.2"/></clipPath>
<g clip-path="url(#clipb)">
<path d="M52.8 401.5 C57.3 401.3 72.1 401 80 400.5 C87.9 400 94.2 399.7 100 398.5 C105.8 397.3 111.7 395.1 115 393.5 C118.3 391.9 118.5 390.4 120 389 C121.5 387.6 122.8 386.1 124 385 C125.2 383.9 126.3 384.3 127.5 382.5 C128.7 380.7 129.9 377.2 131 374 C132.1 370.8 133.2 366.1 134 363 C134.8 359.9 135.4 357.5 136.1 355.6 C136.8 353.7 137.6 352.9 138.4 351.6 C139.2 350.3 140.3 348.2 141.2 347.6 C142.1 347 142.9 347.7 144 348.2 C145.1 348.7 146.2 349.6 148 350.5 C149.8 351.4 153 356.1 154.7 353.9 C156.4 351.6 156.9 346.3 158.3 337 C159.7 327.7 161.8 308.4 163.2 298.3 C164.6 288.2 165.8 280.2 166.8 276.6 C167.8 273 168.4 273 169.2 276.6 C170 280.2 170.8 290.7 171.6 298.3 C172.4 305.9 173 314.8 174 322.5 C175 330.2 176.3 338.7 177.7 344.3 C179.1 349.9 180.1 353.5 182.5 356.3 C184.9 359.1 189.5 360.2 192.2 361.2 C194.9 362.2 197.1 362.8 198.8 362.4 C200.5 362 201.6 359.7 202.5 358.6 C203.4 357.5 203.3 356.6 204.4 355.8 C205.5 355 207.3 354.1 209.2 353.9 C211.1 353.7 214.1 354.4 215.8 354.8 C217.5 355.2 216.7 356.5 219.5 356.3 C222.3 356.1 227.3 354.9 232.7 353.9 C238 352.9 245.3 351.5 251.6 350.1 C257.9 348.7 266.7 346.2 270.5 345.4 C274.3 344.5 271.1 344.9 274.2 345 C277.3 345.1 286.8 346.1 289.3 346.3" fill="none" stroke="#6a6a6a" stroke-width="0.9"/>
<path d="M52.8 404 C59 403.7 80.5 403.1 90 402 C99.5 400.9 105 398.6 110 397.4 C115 396.2 116.5 397.8 119.7 395 C122.9 392.2 126.9 386.9 129.3 380.5 C131.7 374.1 132.2 361.9 134.2 356.3 C136.2 350.7 139 348.1 141.4 346.7 C143.8 345.3 146.5 347.9 148.7 347.9 C150.9 347.9 152.9 350.9 154.7 346.7 C156.5 342.5 157.9 332.6 159.5 322.5 C161.1 312.4 163 294.8 164.4 286.3 C165.8 277.9 166.8 270.6 168 271.8 C169.2 273 170.6 285.9 171.6 293.5 C172.6 301.1 173.2 311.2 174 317.7 C174.8 324.1 175.1 327.4 176.5 332.2 C177.9 337 179.9 343.3 182.5 346.7 C185.1 350.1 189.5 350.9 192.2 352.7 C194.9 354.5 197.1 356.9 198.8 357.6 C200.5 358.3 201.2 356.4 202.5 356.7 C203.8 357 205 358.1 206.3 359.5 C207.6 360.9 209 362.2 210.1 365.2 C211.2 368.2 211.9 373.6 212.9 377.5 C213.9 381.4 214.7 386 215.8 388.8 C216.9 391.6 217.3 392.7 219.5 394.4 C221.7 396.1 225.8 398.1 229 399.2 C232.2 400.3 234.6 400.4 238.4 401 C242.2 401.6 245 402.4 251.6 402.9 C258.2 403.4 273.6 403.7 278 403.9" fill="none" stroke="#222" stroke-width="1.3" stroke-dasharray="5 2 1.2 2"/>
<path d="M52.8 400.8 C57.3 400.6 72.1 400.1 80 399.5 C87.9 398.9 95 398.1 100 397.5 C105 396.9 107 396.8 110 396.2 C113 395.6 115.9 395 118 394.1 C120.1 393.2 121 392.2 122.5 390.7 C124 389.2 125.8 387.4 127.1 385 C128.4 382.6 129.5 379.2 130.5 376 C131.5 372.8 132.5 369.2 133.3 365.8 C134.2 362.4 134.9 359 135.6 355.6 C136.3 352.2 136.7 348.4 137.3 345.4 C137.9 342.4 138.3 339.8 139 337.5 C139.7 335.2 140.4 333.1 141.2 331.8 C142 330.5 143.1 329.1 144 329.5 C144.9 329.9 145.9 332.1 146.9 334.1 C147.9 336.2 148.8 340.3 149.9 341.8 C151 343.3 152.3 344.6 153.5 343 C154.7 341.4 155.9 338 157.1 332.2 C158.3 326.4 159.6 316.9 160.8 308 C162 299.1 163.1 285.6 164.4 279 C165.7 272.4 167.4 269.2 168.6 268.2 C169.8 267.2 170.5 270.4 171.3 273 C172.1 275.6 172.7 279.4 173.3 284 C173.9 288.6 174.4 295.6 175 300.8 C175.6 306.1 176.1 311.2 177 315.5 C177.9 319.8 178.9 323.6 180.4 326.7 C181.9 329.8 183.9 332.1 185.9 334.1 C187.9 336.1 190.4 337.6 192.7 338.9 C195 340.1 197.5 340.6 199.5 341.6 C201.5 342.6 203.2 343.6 204.6 344.8 C206 346 206.9 347 207.8 349 C208.7 351 209.2 353.5 210.1 356.7 C210.9 359.9 211.9 364.9 212.9 368 C213.9 371.1 214.4 373.6 215.8 375.6 C217.2 377.7 218.6 378.7 221.4 380.3 C224.2 381.9 228.6 383.6 232.7 385 C236.8 386.4 241.2 387.4 245.9 388.4 C250.6 389.4 255 390 261 391 C267 392 278.3 393.8 281.8 394.4" fill="none" stroke="#111" stroke-width="1.5" stroke-linejoin="round"/>
<line x1="154.7" y1="294.7" x2="154.7" y2="368.4" stroke="#333" stroke-width="1.25" stroke-dasharray="4 3.6"/>
<line x1="168.5" y1="229.4" x2="168.5" y2="268" stroke="#333" stroke-width="1.25" stroke-dasharray="4 3.6"/>
<line x1="201.6" y1="298.2" x2="201.6" y2="378.4" stroke="#333" stroke-width="1.25" stroke-dasharray="4 3.6"/>
<line x1="215.8" y1="319.9" x2="215.8" y2="401" stroke="#333" stroke-width="1.25" stroke-dasharray="4 3.6"/>
</g>
<text x="146.7" y="316.5" font-size="11" font-weight="normal" font-family='"Liberation Serif", serif' text-anchor="middle" fill="#2a2a2a">δ</text>
<text x="158.3" y="252" font-size="11" font-weight="normal" font-family='"Liberation Serif", serif' text-anchor="middle" fill="#2a2a2a">β+δ</text>
<text x="192.7" y="303.5" font-size="11" font-weight="normal" font-family='"Liberation Serif", serif' text-anchor="middle" fill="#2a2a2a">β</text>
<text x="211.5" y="311.5" font-size="11" font-weight="normal" font-family='"Liberation Serif", serif' text-anchor="middle" fill="#2a2a2a">α+β</text>
<text x="224.6" y="344.5" font-size="11" font-weight="normal" font-family='"Liberation Serif", serif' text-anchor="middle" fill="#2a2a2a">α</text>
<rect x="441.6" y="229.4" width="237.3" height="176.2" fill="none" stroke="#111" stroke-width="1.75"/>
<line x1="441.6" y1="405.6" x2="441.6" y2="402.1" stroke="#111" stroke-width="1.2"/>
<text x="441.6" y="415.7" font-size="9.4" font-weight="bold" font-family='"Liberation Sans", sans-serif' text-anchor="middle" fill="#111" textLength="11.9" lengthAdjust="spacingAndGlyphs">100</text>
<line x1="454.8" y1="405.6" x2="454.8" y2="403.6" stroke="#111" stroke-width="1.2"/>
<line x1="468" y1="405.6" x2="468" y2="402.1" stroke="#111" stroke-width="1.2"/>
<text x="468" y="415.7" font-size="9.4" font-weight="bold" font-family='"Liberation Sans", sans-serif' text-anchor="middle" fill="#111" textLength="11.9" lengthAdjust="spacingAndGlyphs">200</text>
<line x1="481.2" y1="405.6" x2="481.2" y2="403.6" stroke="#111" stroke-width="1.2"/>
<line x1="494.3" y1="405.6" x2="494.3" y2="402.1" stroke="#111" stroke-width="1.2"/>
<text x="494.3" y="415.7" font-size="9.4" font-weight="bold" font-family='"Liberation Sans", sans-serif' text-anchor="middle" fill="#111" textLength="11.9" lengthAdjust="spacingAndGlyphs">300</text>
<line x1="507.5" y1="405.6" x2="507.5" y2="403.6" stroke="#111" stroke-width="1.2"/>
<line x1="520.7" y1="405.6" x2="520.7" y2="402.1" stroke="#111" stroke-width="1.2"/>
<text x="520.7" y="415.7" font-size="9.4" font-weight="bold" font-family='"Liberation Sans", sans-serif' text-anchor="middle" fill="#111" textLength="11.9" lengthAdjust="spacingAndGlyphs">400</text>
<line x1="533.9" y1="405.6" x2="533.9" y2="403.6" stroke="#111" stroke-width="1.2"/>
<line x1="547.1" y1="405.6" x2="547.1" y2="402.1" stroke="#111" stroke-width="1.2"/>
<text x="547.1" y="415.7" font-size="9.4" font-weight="bold" font-family='"Liberation Sans", sans-serif' text-anchor="middle" fill="#111" textLength="11.9" lengthAdjust="spacingAndGlyphs">500</text>
<line x1="560.2" y1="405.6" x2="560.2" y2="403.6" stroke="#111" stroke-width="1.2"/>
<line x1="573.4" y1="405.6" x2="573.4" y2="402.1" stroke="#111" stroke-width="1.2"/>
<text x="573.4" y="415.7" font-size="9.4" font-weight="bold" font-family='"Liberation Sans", sans-serif' text-anchor="middle" fill="#111" textLength="11.9" lengthAdjust="spacingAndGlyphs">600</text>
<line x1="586.6" y1="405.6" x2="586.6" y2="403.6" stroke="#111" stroke-width="1.2"/>
<line x1="599.8" y1="405.6" x2="599.8" y2="402.1" stroke="#111" stroke-width="1.2"/>
<text x="599.8" y="415.7" font-size="9.4" font-weight="bold" font-family='"Liberation Sans", sans-serif' text-anchor="middle" fill="#111" textLength="11.9" lengthAdjust="spacingAndGlyphs">700</text>
<line x1="613" y1="405.6" x2="613" y2="403.6" stroke="#111" stroke-width="1.2"/>
<line x1="626.2" y1="405.6" x2="626.2" y2="402.1" stroke="#111" stroke-width="1.2"/>
<text x="626.2" y="415.7" font-size="9.4" font-weight="bold" font-family='"Liberation Sans", sans-serif' text-anchor="middle" fill="#111" textLength="11.9" lengthAdjust="spacingAndGlyphs">800</text>
<line x1="639.4" y1="405.6" x2="639.4" y2="403.6" stroke="#111" stroke-width="1.2"/>
<line x1="652.5" y1="405.6" x2="652.5" y2="402.1" stroke="#111" stroke-width="1.2"/>
<text x="652.5" y="415.7" font-size="9.4" font-weight="bold" font-family='"Liberation Sans", sans-serif' text-anchor="middle" fill="#111" textLength="11.9" lengthAdjust="spacingAndGlyphs">900</text>
<line x1="665.7" y1="405.6" x2="665.7" y2="403.6" stroke="#111" stroke-width="1.2"/>
<line x1="678.9" y1="405.6" x2="678.9" y2="402.1" stroke="#111" stroke-width="1.2"/>
<text x="678.9" y="415.7" font-size="9.4" font-weight="bold" font-family='"Liberation Sans", sans-serif' text-anchor="middle" fill="#111" textLength="15.8" lengthAdjust="spacingAndGlyphs">1000</text>
<text x="561.2" y="434.7" font-size="14.4" font-weight="bold" font-family='"Liberation Sans", sans-serif' text-anchor="middle" fill="#111" textLength="107.2" lengthAdjust="spacingAndGlyphs">Temperature (°C)</text>
<text x="437.6" y="403.6" font-size="9.4" font-weight="bold" font-family='"Liberation Sans", sans-serif' text-anchor="end" fill="#111" textLength="11.5" lengthAdjust="spacingAndGlyphs">0.0</text>
<line x1="441.6" y1="400.3" x2="445.1" y2="400.3" stroke="#111" stroke-width="1.2"/>
<text x="433.5" y="379.3" font-size="9.4" font-weight="bold" font-family='"Liberation Sans", sans-serif' text-anchor="end" fill="#111" textLength="23.5" lengthAdjust="spacingAndGlyphs">5.0x10</text>
<text x="433.7" y="375.4" font-size="5.5" font-weight="bold" font-family='"Liberation Sans", sans-serif' text-anchor="start" fill="#111">3</text>
<line x1="441.6" y1="376" x2="445.1" y2="376" stroke="#111" stroke-width="1.2"/>
<text x="433.5" y="354.9" font-size="9.4" font-weight="bold" font-family='"Liberation Sans", sans-serif' text-anchor="end" fill="#111" textLength="23.5" lengthAdjust="spacingAndGlyphs">1.0x10</text>
<text x="433.7" y="351" font-size="5.5" font-weight="bold" font-family='"Liberation Sans", sans-serif' text-anchor="start" fill="#111">4</text>
<line x1="441.6" y1="351.6" x2="445.1" y2="351.6" stroke="#111" stroke-width="1.2"/>
<text x="433.5" y="330.2" font-size="9.4" font-weight="bold" font-family='"Liberation Sans", sans-serif' text-anchor="end" fill="#111" textLength="23.5" lengthAdjust="spacingAndGlyphs">1.5x10</text>
<text x="433.7" y="326.3" font-size="5.5" font-weight="bold" font-family='"Liberation Sans", sans-serif' text-anchor="start" fill="#111">4</text>
<line x1="441.6" y1="326.9" x2="445.1" y2="326.9" stroke="#111" stroke-width="1.2"/>
<text x="433.5" y="305.8" font-size="9.4" font-weight="bold" font-family='"Liberation Sans", sans-serif' text-anchor="end" fill="#111" textLength="23.5" lengthAdjust="spacingAndGlyphs">2.0x10</text>
<text x="433.7" y="301.9" font-size="5.5" font-weight="bold" font-family='"Liberation Sans", sans-serif' text-anchor="start" fill="#111">4</text>
<line x1="441.6" y1="302.5" x2="445.1" y2="302.5" stroke="#111" stroke-width="1.2"/>
<text x="433.5" y="281.6" font-size="9.4" font-weight="bold" font-family='"Liberation Sans", sans-serif' text-anchor="end" fill="#111" textLength="23.5" lengthAdjust="spacingAndGlyphs">2.5x10</text>
<text x="433.7" y="277.7" font-size="5.5" font-weight="bold" font-family='"Liberation Sans", sans-serif' text-anchor="start" fill="#111">4</text>
<line x1="441.6" y1="278.3" x2="445.1" y2="278.3" stroke="#111" stroke-width="1.2"/>
<text x="433.5" y="257.2" font-size="9.4" font-weight="bold" font-family='"Liberation Sans", sans-serif' text-anchor="end" fill="#111" textLength="23.5" lengthAdjust="spacingAndGlyphs">3.0x10</text>
<text x="433.7" y="253.3" font-size="5.5" font-weight="bold" font-family='"Liberation Sans", sans-serif' text-anchor="start" fill="#111">4</text>
<line x1="441.6" y1="253.9" x2="445.1" y2="253.9" stroke="#111" stroke-width="1.2"/>
<text x="433.5" y="232.5" font-size="9.4" font-weight="bold" font-family='"Liberation Sans", sans-serif' text-anchor="end" fill="#111" textLength="23.5" lengthAdjust="spacingAndGlyphs">3.5x10</text>
<text x="433.7" y="228.6" font-size="5.5" font-weight="bold" font-family='"Liberation Sans", sans-serif' text-anchor="start" fill="#111">4</text>
<line x1="441.6" y1="229.2" x2="445.1" y2="229.2" stroke="#111" stroke-width="1.2"/>
<line x1="441.6" y1="388.1" x2="443.6" y2="388.1" stroke="#111" stroke-width="1.2"/>
<line x1="441.6" y1="363.8" x2="443.6" y2="363.8" stroke="#111" stroke-width="1.2"/>
<line x1="441.6" y1="339.2" x2="443.6" y2="339.2" stroke="#111" stroke-width="1.2"/>
<line x1="441.6" y1="314.7" x2="443.6" y2="314.7" stroke="#111" stroke-width="1.2"/>
<line x1="441.6" y1="290.4" x2="443.6" y2="290.4" stroke="#111" stroke-width="1.2"/>
<line x1="441.6" y1="266.1" x2="443.6" y2="266.1" stroke="#111" stroke-width="1.2"/>
<line x1="441.6" y1="241.6" x2="443.6" y2="241.6" stroke="#111" stroke-width="1.2"/>
<text transform="translate(400.3 327.7) rotate(-90)" font-size="14.4" font-weight="bold" font-family='"Liberation Sans", sans-serif' text-anchor="middle" fill="#111" textLength="99" lengthAdjust="spacingAndGlyphs">H<tspan font-size="9" dy="5.9">2</tspan><tspan dy="-5.9"> signal (a. u.)</tspan></text>
<text x="682.9" y="408.5" font-size="9.4" font-weight="bold" font-family='"Liberation Sans", sans-serif' text-anchor="start" fill="#111" textLength="11.5" lengthAdjust="spacingAndGlyphs">0.0</text>
<line x1="678.9" y1="405.2" x2="675.4" y2="405.2" stroke="#111" stroke-width="1.2"/>
<text x="682.9" y="382.9" font-size="9.4" font-weight="bold" font-family='"Liberation Sans", sans-serif' text-anchor="start" fill="#111" textLength="11.5" lengthAdjust="spacingAndGlyphs">0.4</text>
<line x1="678.9" y1="379.6" x2="675.4" y2="379.6" stroke="#111" stroke-width="1.2"/>
<text x="682.9" y="357.2" font-size="9.4" font-weight="bold" font-family='"Liberation Sans", sans-serif' text-anchor="start" fill="#111" textLength="11.5" lengthAdjust="spacingAndGlyphs">0.8</text>
<line x1="678.9" y1="353.9" x2="675.4" y2="353.9" stroke="#111" stroke-width="1.2"/>
<text x="682.9" y="331.5" font-size="9.4" font-weight="bold" font-family='"Liberation Sans", sans-serif' text-anchor="start" fill="#111" textLength="11.5" lengthAdjust="spacingAndGlyphs">1.2</text>
<line x1="678.9" y1="328.2" x2="675.4" y2="328.2" stroke="#111" stroke-width="1.2"/>
<text x="682.9" y="305.8" font-size="9.4" font-weight="bold" font-family='"Liberation Sans", sans-serif' text-anchor="start" fill="#111" textLength="11.5" lengthAdjust="spacingAndGlyphs">1.6</text>
<line x1="678.9" y1="302.5" x2="675.4" y2="302.5" stroke="#111" stroke-width="1.2"/>
<text x="682.9" y="280.1" font-size="9.4" font-weight="bold" font-family='"Liberation Sans", sans-serif' text-anchor="start" fill="#111" textLength="11.5" lengthAdjust="spacingAndGlyphs">2.0</text>
<line x1="678.9" y1="276.8" x2="675.4" y2="276.8" stroke="#111" stroke-width="1.2"/>
<text x="682.9" y="254.4" font-size="9.4" font-weight="bold" font-family='"Liberation Sans", sans-serif' text-anchor="start" fill="#111" textLength="11.5" lengthAdjust="spacingAndGlyphs">2.4</text>
<line x1="678.9" y1="251.1" x2="675.4" y2="251.1" stroke="#111" stroke-width="1.2"/>
<line x1="678.9" y1="392.4" x2="676.9" y2="392.4" stroke="#111" stroke-width="1.2"/>
<line x1="678.9" y1="366.8" x2="676.9" y2="366.8" stroke="#111" stroke-width="1.2"/>
<line x1="678.9" y1="341" x2="676.9" y2="341" stroke="#111" stroke-width="1.2"/>
<line x1="678.9" y1="315.4" x2="676.9" y2="315.4" stroke="#111" stroke-width="1.2"/>
<line x1="678.9" y1="289.6" x2="676.9" y2="289.6" stroke="#111" stroke-width="1.2"/>
<line x1="678.9" y1="263.9" x2="676.9" y2="263.9" stroke="#111" stroke-width="1.2"/>
<line x1="678.9" y1="238.3" x2="676.9" y2="238.3" stroke="#111" stroke-width="1.2"/>
<text transform="translate(710.4 326) rotate(-90)" font-size="14.4" font-weight="bold" font-family='"Liberation Sans", sans-serif' text-anchor="middle" fill="#111" textLength="93.2" lengthAdjust="spacingAndGlyphs">DSC (mW/mg)</text>
<line x1="719.1" y1="229.1" x2="719.1" y2="405.6" stroke="#111" stroke-width="2"/>
<text x="723.1" y="406.1" font-size="9.4" font-weight="bold" font-family='"Liberation Sans", sans-serif' text-anchor="start" fill="#111" textLength="20.8" lengthAdjust="spacingAndGlyphs">0.000</text>
<line x1="719.1" y1="402.8" x2="715.6" y2="402.8" stroke="#111" stroke-width="1.2"/>
<text x="723.1" y="376.8" font-size="9.4" font-weight="bold" font-family='"Liberation Sans", sans-serif' text-anchor="start" fill="#111" textLength="20.8" lengthAdjust="spacingAndGlyphs">0.002</text>
<line x1="719.1" y1="373.5" x2="715.6" y2="373.5" stroke="#111" stroke-width="1.2"/>
<text x="723.1" y="348.1" font-size="9.4" font-weight="bold" font-family='"Liberation Sans", sans-serif' text-anchor="start" fill="#111" textLength="20.8" lengthAdjust="spacingAndGlyphs">0.004</text>
<line x1="719.1" y1="344.8" x2="715.6" y2="344.8" stroke="#111" stroke-width="1.2"/>
<text x="723.1" y="319.4" font-size="9.4" font-weight="bold" font-family='"Liberation Sans", sans-serif' text-anchor="start" fill="#111" textLength="20.8" lengthAdjust="spacingAndGlyphs">0.006</text>
<line x1="719.1" y1="316.1" x2="715.6" y2="316.1" stroke="#111" stroke-width="1.2"/>
<text x="723.1" y="290.4" font-size="9.4" font-weight="bold" font-family='"Liberation Sans", sans-serif' text-anchor="start" fill="#111" textLength="20.8" lengthAdjust="spacingAndGlyphs">0.008</text>
<line x1="719.1" y1="287.1" x2="715.6" y2="287.1" stroke="#111" stroke-width="1.2"/>
<text x="723.1" y="261.1" font-size="9.4" font-weight="bold" font-family='"Liberation Sans", sans-serif' text-anchor="start" fill="#111" textLength="20.8" lengthAdjust="spacingAndGlyphs">0.010</text>
<line x1="719.1" y1="257.8" x2="715.6" y2="257.8" stroke="#111" stroke-width="1.2"/>
<text x="723.1" y="232.4" font-size="9.4" font-weight="bold" font-family='"Liberation Sans", sans-serif' text-anchor="start" fill="#111" textLength="20.8" lengthAdjust="spacingAndGlyphs">0.012</text>
<line x1="719.1" y1="229.1" x2="715.6" y2="229.1" stroke="#111" stroke-width="1.2"/>
<line x1="719.1" y1="388.1" x2="717.1" y2="388.1" stroke="#111" stroke-width="1.2"/>
<line x1="719.1" y1="359.1" x2="717.1" y2="359.1" stroke="#111" stroke-width="1.2"/>
<line x1="719.1" y1="330.5" x2="717.1" y2="330.5" stroke="#111" stroke-width="1.2"/>
<line x1="719.1" y1="301.6" x2="717.1" y2="301.6" stroke="#111" stroke-width="1.2"/>
<line x1="719.1" y1="272.5" x2="717.1" y2="272.5" stroke="#111" stroke-width="1.2"/>
<line x1="719.1" y1="243.4" x2="717.1" y2="243.4" stroke="#111" stroke-width="1.2"/>
<text transform="translate(758.7 326) rotate(-90)" font-size="14.4" font-weight="bold" font-family='"Liberation Sans", sans-serif' text-anchor="middle" fill="#111" textLength="69" lengthAdjust="spacingAndGlyphs">DTG (a. u.)</text>
<line x1="451.9" y1="244.7" x2="473.9" y2="244.7" stroke="#333" stroke-width="1.5"/>
<text x="476.7" y="247.7" font-size="10" font-weight="normal" font-family='"Liberation Sans", sans-serif' text-anchor="start" fill="#111" textLength="19.2" lengthAdjust="spacingAndGlyphs">TDS</text>
<line x1="457.4" y1="257" x2="471.6" y2="257" stroke="#999" stroke-width="1" stroke-dasharray="1.5 1"/>
<text x="476.7" y="260" font-size="10" font-weight="normal" font-family='"Liberation Sans", sans-serif' text-anchor="start" fill="#111" textLength="19.2" lengthAdjust="spacingAndGlyphs">DSC</text>
<line x1="457.4" y1="268" x2="471.6" y2="268" stroke="#333" stroke-width="1.2" stroke-dasharray="5.5 1.8 1.2 1.8"/>
<text x="476.7" y="271" font-size="10" font-weight="normal" font-family='"Liberation Sans", sans-serif' text-anchor="start" fill="#111" textLength="19.2" lengthAdjust="spacingAndGlyphs">DTG</text>
<text x="674.4" y="245.1" font-size="11.2" font-family='"Liberation Sans", sans-serif' text-anchor="end" fill="#111" textLength="69.2" lengthAdjust="spacingAndGlyphs"><tspan font-weight="normal">(e) </tspan><tspan font-weight="bold">15</tspan><tspan font-weight="normal"> °C/min</tspan></text>
<clipPath id="clipe"><rect x="441.6" y="229.4" width="237.3" height="176.2"/></clipPath>
<g clip-path="url(#clipe)">
<path d="M441.6 397.1 C447.3 397.1 466.3 397 476 397.1 C485.7 397.2 494 398.4 500 398 C506 397.6 508.8 396.1 512 394.5 C515.2 392.9 517.2 390.6 519.5 388.5 C521.8 386.4 524 384.2 525.6 382 C527.2 379.8 528.1 377.7 529.2 375 C530.3 372.3 530.8 369.3 532 366 C533.2 362.7 535.1 358.3 536.5 355.1 C537.9 351.9 538.9 348.6 540.1 346.6 C541.3 344.6 542.5 343.6 543.7 343 C544.9 342.4 546 342.7 547.3 343 C548.6 343.3 550.4 344.1 551.6 344.8 C552.8 345.5 553.7 347.3 554.6 347.2 C555.5 347.1 556.2 346.7 557 344.2 C557.8 341.7 558.2 339.8 559.4 332.1 C560.6 324.4 562.4 307.9 564 298.2 C565.6 288.5 567.7 279.8 569.2 274 C570.7 268.2 571.8 261.7 573 263.3 C574.2 264.9 575.2 275.5 576.3 283.7 C577.4 291.9 578.6 304.6 579.8 312.7 C581 320.8 582.3 326.3 583.4 332 C584.5 337.7 585.4 343 586.5 347 C587.6 351 588.3 353.2 590 356 C591.7 358.8 594.6 361.3 596.9 363.5 C599.2 365.7 601.4 367.4 603.6 369.4 C605.8 371.4 607.7 373.5 610 375.5 C612.3 377.5 614.6 379.2 617.2 381.6 C619.8 384 621.4 387.3 625.4 389.8 C629.4 392.3 636.5 394.9 641.3 396.4 C646.1 397.8 648.7 398.1 654 398.5 C659.3 398.9 669.8 398.9 673 399" fill="none" stroke="#5a5a5a" stroke-width="0.9"/>
<path d="M441.6 403 C446.9 403 463.7 403.6 473.4 403 C483.1 402.4 493.5 400.9 500 399.5 C506.5 398.1 509 396.2 512.3 394.3 C515.5 392.4 517.3 390.4 519.5 388.3 C521.7 386.2 524 384.2 525.6 382 C527.2 379.8 528.2 377.4 529.2 374.8 C530.2 372.2 530.8 369.5 531.6 366.5 C532.4 363.5 533.1 360.4 534 357 C534.9 353.6 535.9 349.2 537.1 346 C538.3 342.8 539.6 339.4 541.3 337.5 C543 335.6 545.7 334.4 547.3 334.5 C548.9 334.6 549.7 336.9 551 338.1 C552.3 339.3 554 341.8 555.2 341.8 C556.4 341.8 557.3 340.7 558.2 338.1 C559.1 335.5 559.4 333.9 560.6 326 C561.8 318.1 563.7 300.4 565.3 290.9 C566.9 281.4 569 273.8 570.3 269.2 C571.6 264.6 572.2 261.4 573.3 263 C574.4 264.6 575.9 274.1 577 278.8 C578.1 283.5 578.8 284.5 579.8 291.1 C580.8 297.7 581.9 310.8 583.2 318.6 C584.5 326.4 585.8 333.3 587.4 337.7 C589 342.1 590.4 342.5 592.7 345.1 C595 347.7 598.1 351.6 601.1 353.5 C604.1 355.4 607.9 354.4 610.7 356.7 C613.5 359 615.8 365.4 618.1 367.3 C620.4 369.2 621.9 366.6 624.4 368.3 C626.9 370.1 630.4 374.9 632.9 377.8 C635.4 380.7 636.7 384.5 639.2 385.9 C641.7 387.3 645.2 385 647.7 386.3 C650.2 387.6 651.2 392.3 654 393.7 C656.8 395.1 661.4 394 664.6 394.7 C667.8 395.4 671.6 397.4 673 397.9" fill="none" stroke="#222" stroke-width="1.3" stroke-dasharray="5 2 1.2 2"/>
<path d="M441.6 399.7 C447.3 399.7 467.9 399.8 476 399.7 C484.1 399.6 485.7 399.4 490.5 399 C495.3 398.6 501.4 398.3 505 397.4 C508.6 396.5 509.9 395.4 512.3 393.8 C514.7 392.2 517.3 389.7 519.5 387.7 C521.7 385.7 524 383.9 525.6 381.7 C527.2 379.5 528.2 377 529.2 374.4 C530.2 371.8 530.8 369 531.6 366 C532.4 363 533.1 359.7 534 356.3 C534.9 352.9 536 348.8 537.1 345.4 C538.2 342 539.4 338.4 540.7 335.7 C542 333 543.6 330.3 544.9 329.1 C546.2 327.9 547.2 328.7 548.5 328.7 C549.8 328.7 551.6 329.6 552.8 329.1 C554 328.7 554.9 327.5 555.8 326 C556.7 324.5 557.2 323.4 558.2 320 C559.2 316.6 560.4 310.6 561.6 305.4 C562.8 300.1 564.2 294.1 565.5 288.5 C566.8 282.9 568.1 276.1 569.4 271.6 C570.7 267.1 572 262.5 573.3 261.7 C574.6 260.9 575.5 263.1 577 266.8 C578.5 270.5 580.6 279.3 582 283.7 C583.4 288.1 583.8 289.5 585.2 293.3 C586.6 297.1 588.3 302.5 590.3 306.5 C592.2 310.5 594.7 314.1 596.9 317.5 C599.1 320.9 601.4 324.2 603.6 327.2 C605.8 330.2 607.7 332.8 610 335.5 C612.3 338.2 614.2 340.4 617.2 343.5 C620.2 346.6 624 350.1 628.1 354.4 C632.2 358.7 637.6 365.5 641.7 369.4 C645.8 373.3 649 375.6 652.6 377.6 C656.2 379.6 661.7 380.9 663.5 381.6" fill="none" stroke="#111" stroke-width="1.5" stroke-linejoin="round"/>
<line x1="556.2" y1="292.1" x2="556.2" y2="365.8" stroke="#333" stroke-width="1.25" stroke-dasharray="4 3.6"/>
<line x1="573.3" y1="229.4" x2="573.3" y2="261.7" stroke="#333" stroke-width="1.25" stroke-dasharray="4 3.6"/>
</g>
<text x="545.2" y="312.3" font-size="11" font-weight="normal" font-family='"Liberation Serif", serif' text-anchor="middle" fill="#2a2a2a">δ</text>
<text x="561" y="252.1" font-size="11" font-weight="normal" font-family='"Liberation Serif", serif' text-anchor="middle" fill="#2a2a2a">β+δ</text>
<text x="585.8" y="252.1" font-size="11" font-weight="normal" font-family='"Liberation Serif", serif' text-anchor="middle" fill="#2a2a2a">β</text>
<rect x="52.8" y="452" width="236.9" height="176.8" fill="none" stroke="#111" stroke-width="1.75"/>
<line x1="52.8" y1="628.8" x2="52.8" y2="625.3" stroke="#111" stroke-width="1.2"/>
<text x="52.8" y="638.9" font-size="9.4" font-weight="bold" font-family='"Liberation Sans", sans-serif' text-anchor="middle" fill="#111" textLength="11.9" lengthAdjust="spacingAndGlyphs">100</text>
<line x1="66" y1="628.8" x2="66" y2="626.8" stroke="#111" stroke-width="1.2"/>
<line x1="79.1" y1="628.8" x2="79.1" y2="625.3" stroke="#111" stroke-width="1.2"/>
<text x="79.1" y="638.9" font-size="9.4" font-weight="bold" font-family='"Liberation Sans", sans-serif' text-anchor="middle" fill="#111" textLength="11.9" lengthAdjust="spacingAndGlyphs">200</text>
<line x1="92.3" y1="628.8" x2="92.3" y2="626.8" stroke="#111" stroke-width="1.2"/>
<line x1="105.4" y1="628.8" x2="105.4" y2="625.3" stroke="#111" stroke-width="1.2"/>
<text x="105.4" y="638.9" font-size="9.4" font-weight="bold" font-family='"Liberation Sans", sans-serif' text-anchor="middle" fill="#111" textLength="11.9" lengthAdjust="spacingAndGlyphs">300</text>
<line x1="118.6" y1="628.8" x2="118.6" y2="626.8" stroke="#111" stroke-width="1.2"/>
<line x1="131.8" y1="628.8" x2="131.8" y2="625.3" stroke="#111" stroke-width="1.2"/>
<text x="131.8" y="638.9" font-size="9.4" font-weight="bold" font-family='"Liberation Sans", sans-serif' text-anchor="middle" fill="#111" textLength="11.9" lengthAdjust="spacingAndGlyphs">400</text>
<line x1="144.9" y1="628.8" x2="144.9" y2="626.8" stroke="#111" stroke-width="1.2"/>
<line x1="158.1" y1="628.8" x2="158.1" y2="625.3" stroke="#111" stroke-width="1.2"/>
<text x="158.1" y="638.9" font-size="9.4" font-weight="bold" font-family='"Liberation Sans", sans-serif' text-anchor="middle" fill="#111" textLength="11.9" lengthAdjust="spacingAndGlyphs">500</text>
<line x1="171.2" y1="628.8" x2="171.2" y2="626.8" stroke="#111" stroke-width="1.2"/>
<line x1="184.4" y1="628.8" x2="184.4" y2="625.3" stroke="#111" stroke-width="1.2"/>
<text x="184.4" y="638.9" font-size="9.4" font-weight="bold" font-family='"Liberation Sans", sans-serif' text-anchor="middle" fill="#111" textLength="11.9" lengthAdjust="spacingAndGlyphs">600</text>
<line x1="197.6" y1="628.8" x2="197.6" y2="626.8" stroke="#111" stroke-width="1.2"/>
<line x1="210.7" y1="628.8" x2="210.7" y2="625.3" stroke="#111" stroke-width="1.2"/>
<text x="210.7" y="638.9" font-size="9.4" font-weight="bold" font-family='"Liberation Sans", sans-serif' text-anchor="middle" fill="#111" textLength="11.9" lengthAdjust="spacingAndGlyphs">700</text>
<line x1="223.9" y1="628.8" x2="223.9" y2="626.8" stroke="#111" stroke-width="1.2"/>
<line x1="237.1" y1="628.8" x2="237.1" y2="625.3" stroke="#111" stroke-width="1.2"/>
<text x="237.1" y="638.9" font-size="9.4" font-weight="bold" font-family='"Liberation Sans", sans-serif' text-anchor="middle" fill="#111" textLength="11.9" lengthAdjust="spacingAndGlyphs">800</text>
<line x1="250.2" y1="628.8" x2="250.2" y2="626.8" stroke="#111" stroke-width="1.2"/>
<line x1="263.4" y1="628.8" x2="263.4" y2="625.3" stroke="#111" stroke-width="1.2"/>
<text x="263.4" y="638.9" font-size="9.4" font-weight="bold" font-family='"Liberation Sans", sans-serif' text-anchor="middle" fill="#111" textLength="11.9" lengthAdjust="spacingAndGlyphs">900</text>
<line x1="276.5" y1="628.8" x2="276.5" y2="626.8" stroke="#111" stroke-width="1.2"/>
<line x1="289.7" y1="628.8" x2="289.7" y2="625.3" stroke="#111" stroke-width="1.2"/>
<text x="289.7" y="638.9" font-size="9.4" font-weight="bold" font-family='"Liberation Sans", sans-serif' text-anchor="middle" fill="#111" textLength="15.8" lengthAdjust="spacingAndGlyphs">1000</text>
<text x="172.2" y="657.9" font-size="14.4" font-weight="bold" font-family='"Liberation Sans", sans-serif' text-anchor="middle" fill="#111" textLength="107.2" lengthAdjust="spacingAndGlyphs">Temperature (°C)</text>
<text x="48.8" y="626.8" font-size="9.4" font-weight="bold" font-family='"Liberation Sans", sans-serif' text-anchor="end" fill="#111" textLength="11.5" lengthAdjust="spacingAndGlyphs">0.0</text>
<line x1="52.8" y1="623.5" x2="56.3" y2="623.5" stroke="#111" stroke-width="1.2"/>
<text x="44.7" y="602.8" font-size="9.4" font-weight="bold" font-family='"Liberation Sans", sans-serif' text-anchor="end" fill="#111" textLength="23.5" lengthAdjust="spacingAndGlyphs">1.0x10</text>
<text x="44.9" y="598.9" font-size="5.5" font-weight="bold" font-family='"Liberation Sans", sans-serif' text-anchor="start" fill="#111">-5</text>
<line x1="52.8" y1="599.5" x2="56.3" y2="599.5" stroke="#111" stroke-width="1.2"/>
<text x="44.7" y="578.7" font-size="9.4" font-weight="bold" font-family='"Liberation Sans", sans-serif' text-anchor="end" fill="#111" textLength="23.5" lengthAdjust="spacingAndGlyphs">2.0x10</text>
<text x="44.9" y="574.8" font-size="5.5" font-weight="bold" font-family='"Liberation Sans", sans-serif' text-anchor="start" fill="#111">-5</text>
<line x1="52.8" y1="575.4" x2="56.3" y2="575.4" stroke="#111" stroke-width="1.2"/>
<text x="44.7" y="554.1" font-size="9.4" font-weight="bold" font-family='"Liberation Sans", sans-serif' text-anchor="end" fill="#111" textLength="23.5" lengthAdjust="spacingAndGlyphs">3.0x10</text>
<text x="44.9" y="550.2" font-size="5.5" font-weight="bold" font-family='"Liberation Sans", sans-serif' text-anchor="start" fill="#111">-5</text>
<line x1="52.8" y1="550.8" x2="56.3" y2="550.8" stroke="#111" stroke-width="1.2"/>
<text x="44.7" y="529.8" font-size="9.4" font-weight="bold" font-family='"Liberation Sans", sans-serif' text-anchor="end" fill="#111" textLength="23.5" lengthAdjust="spacingAndGlyphs">4.0x10</text>
<text x="44.9" y="525.9" font-size="5.5" font-weight="bold" font-family='"Liberation Sans", sans-serif' text-anchor="start" fill="#111">-5</text>
<line x1="52.8" y1="526.5" x2="56.3" y2="526.5" stroke="#111" stroke-width="1.2"/>
<text x="44.7" y="504.4" font-size="9.4" font-weight="bold" font-family='"Liberation Sans", sans-serif' text-anchor="end" fill="#111" textLength="23.5" lengthAdjust="spacingAndGlyphs">5.0x10</text>
<text x="44.9" y="500.5" font-size="5.5" font-weight="bold" font-family='"Liberation Sans", sans-serif' text-anchor="start" fill="#111">-5</text>
<line x1="52.8" y1="501.1" x2="56.3" y2="501.1" stroke="#111" stroke-width="1.2"/>
<text x="44.7" y="479.8" font-size="9.4" font-weight="bold" font-family='"Liberation Sans", sans-serif' text-anchor="end" fill="#111" textLength="23.5" lengthAdjust="spacingAndGlyphs">6.0x10</text>
<text x="44.9" y="475.9" font-size="5.5" font-weight="bold" font-family='"Liberation Sans", sans-serif' text-anchor="start" fill="#111">-5</text>
<line x1="52.8" y1="476.5" x2="56.3" y2="476.5" stroke="#111" stroke-width="1.2"/>
<text x="44.7" y="455.6" font-size="9.4" font-weight="bold" font-family='"Liberation Sans", sans-serif' text-anchor="end" fill="#111" textLength="23.5" lengthAdjust="spacingAndGlyphs">7.0x10</text>
<text x="44.9" y="451.7" font-size="5.5" font-weight="bold" font-family='"Liberation Sans", sans-serif' text-anchor="start" fill="#111">-5</text>
<line x1="52.8" y1="452.3" x2="56.3" y2="452.3" stroke="#111" stroke-width="1.2"/>
<line x1="52.8" y1="611.5" x2="54.8" y2="611.5" stroke="#111" stroke-width="1.2"/>
<line x1="52.8" y1="587.5" x2="54.8" y2="587.5" stroke="#111" stroke-width="1.2"/>
<line x1="52.8" y1="563.1" x2="54.8" y2="563.1" stroke="#111" stroke-width="1.2"/>
<line x1="52.8" y1="538.6" x2="54.8" y2="538.6" stroke="#111" stroke-width="1.2"/>
<line x1="52.8" y1="513.8" x2="54.8" y2="513.8" stroke="#111" stroke-width="1.2"/>
<line x1="52.8" y1="488.8" x2="54.8" y2="488.8" stroke="#111" stroke-width="1.2"/>
<line x1="52.8" y1="464.4" x2="54.8" y2="464.4" stroke="#111" stroke-width="1.2"/>
<text transform="translate(10.8 550.6) rotate(-90)" font-size="14.4" font-weight="bold" font-family='"Liberation Sans", sans-serif' text-anchor="middle" fill="#111" textLength="99" lengthAdjust="spacingAndGlyphs">H<tspan font-size="9" dy="5.9">2</tspan><tspan dy="-5.9"> signal (a. u.)</tspan></text>
<text x="293.7" y="632.1" font-size="9.4" font-weight="bold" font-family='"Liberation Sans", sans-serif' text-anchor="start" fill="#111" textLength="11.5" lengthAdjust="spacingAndGlyphs">0.0</text>
<line x1="289.7" y1="628.8" x2="286.2" y2="628.8" stroke="#111" stroke-width="1.2"/>
<text x="293.7" y="603.3" font-size="9.4" font-weight="bold" font-family='"Liberation Sans", sans-serif' text-anchor="start" fill="#111" textLength="11.5" lengthAdjust="spacingAndGlyphs">0.1</text>
<line x1="289.7" y1="600" x2="286.2" y2="600" stroke="#111" stroke-width="1.2"/>
<text x="293.7" y="575.3" font-size="9.4" font-weight="bold" font-family='"Liberation Sans", sans-serif' text-anchor="start" fill="#111" textLength="11.5" lengthAdjust="spacingAndGlyphs">0.2</text>
<line x1="289.7" y1="572" x2="286.2" y2="572" stroke="#111" stroke-width="1.2"/>
<text x="293.7" y="546.6" font-size="9.4" font-weight="bold" font-family='"Liberation Sans", sans-serif' text-anchor="start" fill="#111" textLength="11.5" lengthAdjust="spacingAndGlyphs">0.3</text>
<line x1="289.7" y1="543.3" x2="286.2" y2="543.3" stroke="#111" stroke-width="1.2"/>
<text x="293.7" y="518.8" font-size="9.4" font-weight="bold" font-family='"Liberation Sans", sans-serif' text-anchor="start" fill="#111" textLength="11.5" lengthAdjust="spacingAndGlyphs">0.4</text>
<line x1="289.7" y1="515.5" x2="286.2" y2="515.5" stroke="#111" stroke-width="1.2"/>
<text x="293.7" y="490.7" font-size="9.4" font-weight="bold" font-family='"Liberation Sans", sans-serif' text-anchor="start" fill="#111" textLength="11.5" lengthAdjust="spacingAndGlyphs">0.5</text>
<line x1="289.7" y1="487.4" x2="286.2" y2="487.4" stroke="#111" stroke-width="1.2"/>
<text x="293.7" y="462" font-size="9.4" font-weight="bold" font-family='"Liberation Sans", sans-serif' text-anchor="start" fill="#111" textLength="11.5" lengthAdjust="spacingAndGlyphs">0.6</text>
<line x1="289.7" y1="458.7" x2="286.2" y2="458.7" stroke="#111" stroke-width="1.2"/>
<line x1="289.7" y1="614.4" x2="287.7" y2="614.4" stroke="#111" stroke-width="1.2"/>
<line x1="289.7" y1="586" x2="287.7" y2="586" stroke="#111" stroke-width="1.2"/>
<line x1="289.7" y1="557.6" x2="287.7" y2="557.6" stroke="#111" stroke-width="1.2"/>
<line x1="289.7" y1="529.4" x2="287.7" y2="529.4" stroke="#111" stroke-width="1.2"/>
<line x1="289.7" y1="501.4" x2="287.7" y2="501.4" stroke="#111" stroke-width="1.2"/>
<line x1="289.7" y1="473" x2="287.7" y2="473" stroke="#111" stroke-width="1.2"/>
<text transform="translate(321.2 548.9) rotate(-90)" font-size="14.4" font-weight="bold" font-family='"Liberation Sans", sans-serif' text-anchor="middle" fill="#111" textLength="93.2" lengthAdjust="spacingAndGlyphs">DSC (mW/mg)</text>
<line x1="330.3" y1="451" x2="330.3" y2="628.8" stroke="#111" stroke-width="2"/>
<text x="334.3" y="626.1" font-size="9.4" font-weight="bold" font-family='"Liberation Sans", sans-serif' text-anchor="start" fill="#111" textLength="20.8" lengthAdjust="spacingAndGlyphs">0.000</text>
<line x1="330.3" y1="622.8" x2="326.8" y2="622.8" stroke="#111" stroke-width="1.2"/>
<text x="334.3" y="592.8" font-size="9.4" font-weight="bold" font-family='"Liberation Sans", sans-serif' text-anchor="start" fill="#111" textLength="20.8" lengthAdjust="spacingAndGlyphs">0.003</text>
<line x1="330.3" y1="589.5" x2="326.8" y2="589.5" stroke="#111" stroke-width="1.2"/>
<text x="334.3" y="560.5" font-size="9.4" font-weight="bold" font-family='"Liberation Sans", sans-serif' text-anchor="start" fill="#111" textLength="20.8" lengthAdjust="spacingAndGlyphs">0.006</text>
<line x1="330.3" y1="557.2" x2="326.8" y2="557.2" stroke="#111" stroke-width="1.2"/>
<text x="334.3" y="527.3" font-size="9.4" font-weight="bold" font-family='"Liberation Sans", sans-serif' text-anchor="start" fill="#111" textLength="20.8" lengthAdjust="spacingAndGlyphs">0.009</text>
<line x1="330.3" y1="524" x2="326.8" y2="524" stroke="#111" stroke-width="1.2"/>
<text x="334.3" y="494" font-size="9.4" font-weight="bold" font-family='"Liberation Sans", sans-serif' text-anchor="start" fill="#111" textLength="20.8" lengthAdjust="spacingAndGlyphs">0.012</text>
<line x1="330.3" y1="490.7" x2="326.8" y2="490.7" stroke="#111" stroke-width="1.2"/>
<text x="334.3" y="460.7" font-size="9.4" font-weight="bold" font-family='"Liberation Sans", sans-serif' text-anchor="start" fill="#111" textLength="20.8" lengthAdjust="spacingAndGlyphs">0.015</text>
<line x1="330.3" y1="457.4" x2="326.8" y2="457.4" stroke="#111" stroke-width="1.2"/>
<line x1="330.3" y1="606.1" x2="328.3" y2="606.1" stroke="#111" stroke-width="1.2"/>
<line x1="330.3" y1="573.4" x2="328.3" y2="573.4" stroke="#111" stroke-width="1.2"/>
<line x1="330.3" y1="540.6" x2="328.3" y2="540.6" stroke="#111" stroke-width="1.2"/>
<line x1="330.3" y1="507.4" x2="328.3" y2="507.4" stroke="#111" stroke-width="1.2"/>
<line x1="330.3" y1="474" x2="328.3" y2="474" stroke="#111" stroke-width="1.2"/>
<text transform="translate(369.9 548.9) rotate(-90)" font-size="14.4" font-weight="bold" font-family='"Liberation Sans", sans-serif' text-anchor="middle" fill="#111" textLength="69" lengthAdjust="spacingAndGlyphs">DTG (a. u.)</text>
<line x1="60" y1="464.9" x2="82.5" y2="464.9" stroke="#333" stroke-width="1.5"/>
<text x="85.3" y="467.9" font-size="10" font-weight="normal" font-family='"Liberation Sans", sans-serif' text-anchor="start" fill="#111" textLength="19.2" lengthAdjust="spacingAndGlyphs">TDS</text>
<line x1="65.5" y1="477" x2="80.2" y2="477" stroke="#999" stroke-width="1" stroke-dasharray="1.5 1"/>
<text x="85.3" y="480" font-size="10" font-weight="normal" font-family='"Liberation Sans", sans-serif' text-anchor="start" fill="#111" textLength="19.2" lengthAdjust="spacingAndGlyphs">DSC</text>
<line x1="65.5" y1="488" x2="80.2" y2="488" stroke="#333" stroke-width="1.2" stroke-dasharray="5.5 1.8 1.2 1.8"/>
<text x="85.3" y="491" font-size="10" font-weight="normal" font-family='"Liberation Sans", sans-serif' text-anchor="start" fill="#111" textLength="19.2" lengthAdjust="spacingAndGlyphs">DTG</text>
<text x="286.4" y="467.6" font-size="11.2" font-family='"Liberation Sans", sans-serif' text-anchor="end" fill="#111" textLength="72.5" lengthAdjust="spacingAndGlyphs"><tspan font-weight="normal">(a) 1.5 °C/min</tspan></text>
<clipPath id="clipa"><rect x="52.8" y="452" width="236.9" height="176.8"/></clipPath>
<g clip-path="url(#clipa)">
<path d="M52.8 622 C57.8 621.5 74.9 619.9 82.8 619.3 C90.7 618.7 95.5 619.1 100 618.5 C104.5 617.9 107 616.7 110 615.5 C113 614.3 115.5 613 118 611.4 C120.5 609.8 122.8 608.5 124.8 606 C126.8 603.5 128.6 600.6 130.2 596.5 C131.8 592.4 133.3 585.9 134.3 581.6 C135.3 577.3 135.4 573.4 136.3 570.7 C137.2 568 138.2 566.5 139.7 565.3 C141.2 564.1 143.7 563.9 145.1 563.3 C146.5 562.7 147 562.3 148 561.9 C149 561.5 150 562.2 151.1 560.6 C152.2 559 153.5 557.2 154.7 552.2 C155.9 547.2 157.1 538.9 158.3 530.4 C159.5 521.9 160.9 507.8 162 501.4 C163.1 495 164.1 489 165.1 491.8 C166.1 494.6 167.1 508.6 168 518.3 C168.9 528 169.4 542.3 170.4 549.8 C171.4 557.3 172 559.9 174 563.1 C176 566.3 179.9 567.7 182.5 569.1 C185.1 570.5 187.8 570.5 189.8 571.5 C191.8 572.5 193.2 575.2 194.7 574.8 C196.1 574.4 197.4 570.9 198.5 569.2 C199.6 567.5 200.2 566 201.3 564.4 C202.4 562.8 203.2 561.7 205.1 559.7 C207 557.7 209.8 554.3 212.6 552.2 C215.4 550.1 219.1 548.7 222 547 C224.9 545.3 226.1 544.2 230 542.2 C233.9 540.2 241.1 536.7 245.7 534.7 C250.3 532.7 253.9 531.6 257.6 530.4 C261.3 529.2 265.3 528.6 267.8 527.6 C270.3 526.6 270.5 525.4 272.5 524.4 C274.5 523.4 277.1 522.1 280 521.7 C282.9 521.3 288.1 522.1 289.7 522.2" fill="none" stroke="#5a5a5a" stroke-width="0.9"/>
<path d="M52.8 626.8 C57.8 626.5 74.9 626.2 82.8 625.2 C90.7 624.2 95.5 622.1 100 621 C104.5 619.9 106.3 619.6 110 618.6 C113.7 617.6 118.9 617.2 122.1 615 C125.3 612.8 127.3 609.7 129.3 605.3 C131.3 600.9 132.8 594.8 134.2 588.4 C135.6 582 136.2 571.1 137.8 566.7 C139.4 562.3 141.8 562.8 143.8 561.8 C145.8 560.8 148.3 561.8 149.9 560.6 C151.5 559.4 152.1 559.2 153.5 554.6 C154.9 550 156.9 541.3 158.3 532.8 C159.7 524.3 160.9 510.6 162 503.8 C163.1 497 164.1 489.4 165.1 491.8 C166.1 494.2 166.9 508.6 168 518.3 C169.1 528 170.2 542.8 171.6 549.8 C173 556.8 174.7 558 176.5 560.6 C178.3 563.2 180.3 563.7 182.5 565.5 C184.7 567.3 187.9 570.1 189.8 571.5 C191.7 572.9 192.4 573 193.8 573.9 C195.2 574.8 197.2 575.3 198.5 576.7 C199.8 578.1 200.4 579.2 201.3 582.4 C202.2 585.5 203.2 591.2 204.2 595.6 C205.1 600 206.1 605.8 207 608.8 C207.9 611.8 208.2 612.1 209.8 613.5 C211.4 614.9 213.4 616.3 216.4 617.3 C219.4 618.2 222.7 618.7 227.7 619.2 C232.7 619.7 240.3 620.1 246.6 620.5 C252.9 620.9 259.2 621.3 265.5 621.6 C271.8 621.9 281.2 622.3 284.3 622.4" fill="none" stroke="#222" stroke-width="1.3" stroke-dasharray="5 2 1.2 2"/>
<path d="M52.8 619.8 C57.8 619.6 74.9 619 82.8 618.6 C90.7 618.2 95.5 617.8 100 617.6 C104.5 617.4 107 617.9 110 617.4 C113 616.9 115.8 615.8 118 614.8 C120.2 613.8 121.8 612.9 123.4 611.4 C125 609.9 126.2 608.2 127.5 606 C128.8 603.8 129.9 601.1 130.9 597.9 C131.9 594.7 132.9 590.6 133.6 587 C134.3 583.4 134.6 580.1 135 576.2 C135.4 572.4 135.9 568 136.3 563.9 C136.8 559.8 137.1 555.3 137.7 551.7 C138.3 548.1 138.9 544.6 139.7 542.2 C140.5 539.8 141.5 537 142.4 537.5 C143.3 538 144.1 542 145.1 544.9 C146.1 547.8 147.3 552.4 148.2 554.6 C149.1 556.8 149.7 559 150.6 558.2 C151.5 557.4 152.4 554.4 153.5 549.8 C154.6 545.2 155.9 538.1 157.1 530.4 C158.3 522.7 159.8 510.6 160.8 503.8 C161.8 497 162.4 492.7 163.2 489.3 C164 485.9 164.8 483.3 165.6 483.3 C166.4 483.3 167.2 484.7 168 489.3 C168.8 493.9 169.5 503.4 170.4 511.1 C171.3 518.8 172.1 529.3 173.3 535.3 C174.5 541.3 175.8 544.1 177.7 547.3 C179.6 550.5 182.5 552.8 184.9 554.6 C187.3 556.4 190.1 557 192.2 558.2 C194.3 559.4 196.1 560.1 197.5 561.6 C198.9 563.1 199.6 564.8 200.4 567.3 C201.2 569.8 201.7 573.6 202.3 576.7 C202.9 579.8 203.4 583.1 204.2 586.1 C205 589.1 205.8 592.2 207 594.6 C208.2 597 209.8 598.7 211.7 600.3 C213.6 601.9 215.6 602.7 218.3 604.1 C221 605.5 224.2 607.4 227.7 608.8 C231.2 610.2 235 611.4 239.1 612.5 C243.2 613.6 247.3 614.6 252.3 615.4 C257.3 616.2 264.2 616.9 269.2 617.3 C274.2 617.7 280.3 617.7 282.5 617.8" fill="none" stroke="#111" stroke-width="1.5" stroke-linejoin="round"/>
<line x1="153" y1="489.3" x2="153" y2="576.3" stroke="#333" stroke-width="1.05" stroke-dasharray="4 3.6"/>
<line x1="165.6" y1="452" x2="165.6" y2="483.3" stroke="#333" stroke-width="1.05" stroke-dasharray="4 3.6"/>
<line x1="193.3" y1="507.5" x2="193.3" y2="594.5" stroke="#333" stroke-width="1.05" stroke-dasharray="4 3.6"/>
<line x1="212.6" y1="533.3" x2="212.6" y2="620.1" stroke="#333" stroke-width="1.05" stroke-dasharray="4 3.6"/>
</g>
<text x="143.8" y="527.5" font-size="11" font-weight="normal" font-family='"Liberation Serif", serif' text-anchor="middle" fill="#2a2a2a">δ</text>
<text x="153.3" y="470.8" font-size="11" font-weight="normal" font-family='"Liberation Serif", serif' text-anchor="middle" fill="#2a2a2a">β+δ</text>
<text x="178.9" y="502" font-size="11" font-weight="normal" font-family='"Liberation Serif", serif' text-anchor="middle" fill="#2a2a2a">β</text>
<text x="202.3" y="533.9" font-size="11" font-weight="normal" font-family='"Liberation Serif", serif' text-anchor="middle" fill="#2a2a2a">α+β</text>
<text x="226.8" y="580" font-size="11" font-weight="normal" font-family='"Liberation Serif", serif' text-anchor="middle" fill="#2a2a2a">α</text>
<rect x="441.6" y="452" width="237.3" height="176.8" fill="none" stroke="#111" stroke-width="1.75"/>
<line x1="441.6" y1="628.8" x2="441.6" y2="625.3" stroke="#111" stroke-width="1.2"/>
<text x="441.6" y="638.9" font-size="9.4" font-weight="bold" font-family='"Liberation Sans", sans-serif' text-anchor="middle" fill="#111" textLength="11.9" lengthAdjust="spacingAndGlyphs">100</text>
<line x1="454.8" y1="628.8" x2="454.8" y2="626.8" stroke="#111" stroke-width="1.2"/>
<line x1="468" y1="628.8" x2="468" y2="625.3" stroke="#111" stroke-width="1.2"/>
<text x="468" y="638.9" font-size="9.4" font-weight="bold" font-family='"Liberation Sans", sans-serif' text-anchor="middle" fill="#111" textLength="11.9" lengthAdjust="spacingAndGlyphs">200</text>
<line x1="481.2" y1="628.8" x2="481.2" y2="626.8" stroke="#111" stroke-width="1.2"/>
<line x1="494.3" y1="628.8" x2="494.3" y2="625.3" stroke="#111" stroke-width="1.2"/>
<text x="494.3" y="638.9" font-size="9.4" font-weight="bold" font-family='"Liberation Sans", sans-serif' text-anchor="middle" fill="#111" textLength="11.9" lengthAdjust="spacingAndGlyphs">300</text>
<line x1="507.5" y1="628.8" x2="507.5" y2="626.8" stroke="#111" stroke-width="1.2"/>
<line x1="520.7" y1="628.8" x2="520.7" y2="625.3" stroke="#111" stroke-width="1.2"/>
<text x="520.7" y="638.9" font-size="9.4" font-weight="bold" font-family='"Liberation Sans", sans-serif' text-anchor="middle" fill="#111" textLength="11.9" lengthAdjust="spacingAndGlyphs">400</text>
<line x1="533.9" y1="628.8" x2="533.9" y2="626.8" stroke="#111" stroke-width="1.2"/>
<line x1="547.1" y1="628.8" x2="547.1" y2="625.3" stroke="#111" stroke-width="1.2"/>
<text x="547.1" y="638.9" font-size="9.4" font-weight="bold" font-family='"Liberation Sans", sans-serif' text-anchor="middle" fill="#111" textLength="11.9" lengthAdjust="spacingAndGlyphs">500</text>
<line x1="560.2" y1="628.8" x2="560.2" y2="626.8" stroke="#111" stroke-width="1.2"/>
<line x1="573.4" y1="628.8" x2="573.4" y2="625.3" stroke="#111" stroke-width="1.2"/>
<text x="573.4" y="638.9" font-size="9.4" font-weight="bold" font-family='"Liberation Sans", sans-serif' text-anchor="middle" fill="#111" textLength="11.9" lengthAdjust="spacingAndGlyphs">600</text>
<line x1="586.6" y1="628.8" x2="586.6" y2="626.8" stroke="#111" stroke-width="1.2"/>
<line x1="599.8" y1="628.8" x2="599.8" y2="625.3" stroke="#111" stroke-width="1.2"/>
<text x="599.8" y="638.9" font-size="9.4" font-weight="bold" font-family='"Liberation Sans", sans-serif' text-anchor="middle" fill="#111" textLength="11.9" lengthAdjust="spacingAndGlyphs">700</text>
<line x1="613" y1="628.8" x2="613" y2="626.8" stroke="#111" stroke-width="1.2"/>
<line x1="626.2" y1="628.8" x2="626.2" y2="625.3" stroke="#111" stroke-width="1.2"/>
<text x="626.2" y="638.9" font-size="9.4" font-weight="bold" font-family='"Liberation Sans", sans-serif' text-anchor="middle" fill="#111" textLength="11.9" lengthAdjust="spacingAndGlyphs">800</text>
<line x1="639.4" y1="628.8" x2="639.4" y2="626.8" stroke="#111" stroke-width="1.2"/>
<line x1="652.5" y1="628.8" x2="652.5" y2="625.3" stroke="#111" stroke-width="1.2"/>
<text x="652.5" y="638.9" font-size="9.4" font-weight="bold" font-family='"Liberation Sans", sans-serif' text-anchor="middle" fill="#111" textLength="11.9" lengthAdjust="spacingAndGlyphs">900</text>
<line x1="665.7" y1="628.8" x2="665.7" y2="626.8" stroke="#111" stroke-width="1.2"/>
<line x1="678.9" y1="628.8" x2="678.9" y2="625.3" stroke="#111" stroke-width="1.2"/>
<text x="678.9" y="638.9" font-size="9.4" font-weight="bold" font-family='"Liberation Sans", sans-serif' text-anchor="middle" fill="#111" textLength="15.8" lengthAdjust="spacingAndGlyphs">1000</text>
<text x="561.2" y="657.9" font-size="14.4" font-weight="bold" font-family='"Liberation Sans", sans-serif' text-anchor="middle" fill="#111" textLength="107.2" lengthAdjust="spacingAndGlyphs">Temperature (°C)</text>
<text x="437.6" y="624.1" font-size="9.4" font-weight="bold" font-family='"Liberation Sans", sans-serif' text-anchor="end" fill="#111" textLength="11.5" lengthAdjust="spacingAndGlyphs">0.0</text>
<line x1="441.6" y1="620.8" x2="445.1" y2="620.8" stroke="#111" stroke-width="1.2"/>
<text x="433.5" y="591.3" font-size="9.4" font-weight="bold" font-family='"Liberation Sans", sans-serif' text-anchor="end" fill="#111" textLength="23.5" lengthAdjust="spacingAndGlyphs">5.0x10</text>
<text x="433.7" y="587.4" font-size="5.5" font-weight="bold" font-family='"Liberation Sans", sans-serif' text-anchor="start" fill="#111">3</text>
<line x1="441.6" y1="588" x2="445.1" y2="588" stroke="#111" stroke-width="1.2"/>
<text x="433.5" y="557.3" font-size="9.4" font-weight="bold" font-family='"Liberation Sans", sans-serif' text-anchor="end" fill="#111" textLength="23.5" lengthAdjust="spacingAndGlyphs">1.0x10</text>
<text x="433.7" y="553.4" font-size="5.5" font-weight="bold" font-family='"Liberation Sans", sans-serif' text-anchor="start" fill="#111">4</text>
<line x1="441.6" y1="554" x2="445.1" y2="554" stroke="#111" stroke-width="1.2"/>
<text x="433.5" y="523.6" font-size="9.4" font-weight="bold" font-family='"Liberation Sans", sans-serif' text-anchor="end" fill="#111" textLength="23.5" lengthAdjust="spacingAndGlyphs">1.5x10</text>
<text x="433.7" y="519.7" font-size="5.5" font-weight="bold" font-family='"Liberation Sans", sans-serif' text-anchor="start" fill="#111">4</text>
<line x1="441.6" y1="520.3" x2="445.1" y2="520.3" stroke="#111" stroke-width="1.2"/>
<text x="433.5" y="489.4" font-size="9.4" font-weight="bold" font-family='"Liberation Sans", sans-serif' text-anchor="end" fill="#111" textLength="23.5" lengthAdjust="spacingAndGlyphs">2.0x10</text>
<text x="433.7" y="485.5" font-size="5.5" font-weight="bold" font-family='"Liberation Sans", sans-serif' text-anchor="start" fill="#111">4</text>
<line x1="441.6" y1="486.1" x2="445.1" y2="486.1" stroke="#111" stroke-width="1.2"/>
<text x="433.5" y="455.6" font-size="9.4" font-weight="bold" font-family='"Liberation Sans", sans-serif' text-anchor="end" fill="#111" textLength="23.5" lengthAdjust="spacingAndGlyphs">2.5x10</text>
<text x="433.7" y="451.7" font-size="5.5" font-weight="bold" font-family='"Liberation Sans", sans-serif' text-anchor="start" fill="#111">4</text>
<line x1="441.6" y1="452.3" x2="445.1" y2="452.3" stroke="#111" stroke-width="1.2"/>
<line x1="441.6" y1="604.4" x2="443.6" y2="604.4" stroke="#111" stroke-width="1.2"/>
<line x1="441.6" y1="571" x2="443.6" y2="571" stroke="#111" stroke-width="1.2"/>
<line x1="441.6" y1="537.1" x2="443.6" y2="537.1" stroke="#111" stroke-width="1.2"/>
<line x1="441.6" y1="503.2" x2="443.6" y2="503.2" stroke="#111" stroke-width="1.2"/>
<line x1="441.6" y1="469.2" x2="443.6" y2="469.2" stroke="#111" stroke-width="1.2"/>
<text transform="translate(400.3 550.6) rotate(-90)" font-size="14.4" font-weight="bold" font-family='"Liberation Sans", sans-serif' text-anchor="middle" fill="#111" textLength="99" lengthAdjust="spacingAndGlyphs">H<tspan font-size="9" dy="5.9">2</tspan><tspan dy="-5.9"> signal (a. u.)</tspan></text>
<text x="682.9" y="632.1" font-size="9.4" font-weight="bold" font-family='"Liberation Sans", sans-serif' text-anchor="start" fill="#111" textLength="11.5" lengthAdjust="spacingAndGlyphs">0.0</text>
<line x1="678.9" y1="628.8" x2="675.4" y2="628.8" stroke="#111" stroke-width="1.2"/>
<text x="682.9" y="607.3" font-size="9.4" font-weight="bold" font-family='"Liberation Sans", sans-serif' text-anchor="start" fill="#111" textLength="11.5" lengthAdjust="spacingAndGlyphs">0.3</text>
<line x1="678.9" y1="604" x2="675.4" y2="604" stroke="#111" stroke-width="1.2"/>
<text x="682.9" y="583.3" font-size="9.4" font-weight="bold" font-family='"Liberation Sans", sans-serif' text-anchor="start" fill="#111" textLength="11.5" lengthAdjust="spacingAndGlyphs">0.6</text>
<line x1="678.9" y1="580" x2="675.4" y2="580" stroke="#111" stroke-width="1.2"/>
<text x="682.9" y="559" font-size="9.4" font-weight="bold" font-family='"Liberation Sans", sans-serif' text-anchor="start" fill="#111" textLength="11.5" lengthAdjust="spacingAndGlyphs">0.9</text>
<line x1="678.9" y1="555.7" x2="675.4" y2="555.7" stroke="#111" stroke-width="1.2"/>
<text x="682.9" y="534.9" font-size="9.4" font-weight="bold" font-family='"Liberation Sans", sans-serif' text-anchor="start" fill="#111" textLength="11.5" lengthAdjust="spacingAndGlyphs">1.2</text>
<line x1="678.9" y1="531.6" x2="675.4" y2="531.6" stroke="#111" stroke-width="1.2"/>
<text x="682.9" y="510.7" font-size="9.4" font-weight="bold" font-family='"Liberation Sans", sans-serif' text-anchor="start" fill="#111" textLength="11.5" lengthAdjust="spacingAndGlyphs">1.5</text>
<line x1="678.9" y1="507.4" x2="675.4" y2="507.4" stroke="#111" stroke-width="1.2"/>
<text x="682.9" y="486.5" font-size="9.4" font-weight="bold" font-family='"Liberation Sans", sans-serif' text-anchor="start" fill="#111" textLength="11.5" lengthAdjust="spacingAndGlyphs">1.8</text>
<line x1="678.9" y1="483.2" x2="675.4" y2="483.2" stroke="#111" stroke-width="1.2"/>
<text x="682.9" y="462" font-size="9.4" font-weight="bold" font-family='"Liberation Sans", sans-serif' text-anchor="start" fill="#111" textLength="11.5" lengthAdjust="spacingAndGlyphs">2.1</text>
<line x1="678.9" y1="458.7" x2="675.4" y2="458.7" stroke="#111" stroke-width="1.2"/>
<line x1="678.9" y1="616.4" x2="676.9" y2="616.4" stroke="#111" stroke-width="1.2"/>
<line x1="678.9" y1="592" x2="676.9" y2="592" stroke="#111" stroke-width="1.2"/>
<line x1="678.9" y1="567.9" x2="676.9" y2="567.9" stroke="#111" stroke-width="1.2"/>
<line x1="678.9" y1="543.7" x2="676.9" y2="543.7" stroke="#111" stroke-width="1.2"/>
<line x1="678.9" y1="519.5" x2="676.9" y2="519.5" stroke="#111" stroke-width="1.2"/>
<line x1="678.9" y1="495.3" x2="676.9" y2="495.3" stroke="#111" stroke-width="1.2"/>
<line x1="678.9" y1="470.9" x2="676.9" y2="470.9" stroke="#111" stroke-width="1.2"/>
<text transform="translate(710.4 548.9) rotate(-90)" font-size="14.4" font-weight="bold" font-family='"Liberation Sans", sans-serif' text-anchor="middle" fill="#111" textLength="93.2" lengthAdjust="spacingAndGlyphs">DSC (mW/mg)</text>
<line x1="719.1" y1="451.5" x2="719.1" y2="628.8" stroke="#111" stroke-width="2"/>
<text x="723.1" y="626.6" font-size="9.4" font-weight="bold" font-family='"Liberation Sans", sans-serif' text-anchor="start" fill="#111" textLength="20.8" lengthAdjust="spacingAndGlyphs">0.000</text>
<line x1="719.1" y1="623.3" x2="715.6" y2="623.3" stroke="#111" stroke-width="1.2"/>
<text x="723.1" y="598.3" font-size="9.4" font-weight="bold" font-family='"Liberation Sans", sans-serif' text-anchor="start" fill="#111" textLength="20.8" lengthAdjust="spacingAndGlyphs">0.002</text>
<line x1="719.1" y1="595" x2="715.6" y2="595" stroke="#111" stroke-width="1.2"/>
<text x="723.1" y="571.1" font-size="9.4" font-weight="bold" font-family='"Liberation Sans", sans-serif' text-anchor="start" fill="#111" textLength="20.8" lengthAdjust="spacingAndGlyphs">0.004</text>
<line x1="719.1" y1="567.8" x2="715.6" y2="567.8" stroke="#111" stroke-width="1.2"/>
<text x="723.1" y="543.9" font-size="9.4" font-weight="bold" font-family='"Liberation Sans", sans-serif' text-anchor="start" fill="#111" textLength="20.8" lengthAdjust="spacingAndGlyphs">0.006</text>
<line x1="719.1" y1="540.6" x2="715.6" y2="540.6" stroke="#111" stroke-width="1.2"/>
<text x="723.1" y="516.7" font-size="9.4" font-weight="bold" font-family='"Liberation Sans", sans-serif' text-anchor="start" fill="#111" textLength="20.8" lengthAdjust="spacingAndGlyphs">0.008</text>
<line x1="719.1" y1="513.4" x2="715.6" y2="513.4" stroke="#111" stroke-width="1.2"/>
<text x="723.1" y="489.5" font-size="9.4" font-weight="bold" font-family='"Liberation Sans", sans-serif' text-anchor="start" fill="#111" textLength="20.8" lengthAdjust="spacingAndGlyphs">0.010</text>
<line x1="719.1" y1="486.2" x2="715.6" y2="486.2" stroke="#111" stroke-width="1.2"/>
<text x="723.1" y="462" font-size="9.4" font-weight="bold" font-family='"Liberation Sans", sans-serif' text-anchor="start" fill="#111" textLength="20.8" lengthAdjust="spacingAndGlyphs">0.012</text>
<line x1="719.1" y1="458.7" x2="715.6" y2="458.7" stroke="#111" stroke-width="1.2"/>
<line x1="719.1" y1="609.1" x2="717.1" y2="609.1" stroke="#111" stroke-width="1.2"/>
<line x1="719.1" y1="581.4" x2="717.1" y2="581.4" stroke="#111" stroke-width="1.2"/>
<line x1="719.1" y1="554.2" x2="717.1" y2="554.2" stroke="#111" stroke-width="1.2"/>
<line x1="719.1" y1="527" x2="717.1" y2="527" stroke="#111" stroke-width="1.2"/>
<line x1="719.1" y1="499.8" x2="717.1" y2="499.8" stroke="#111" stroke-width="1.2"/>
<line x1="719.1" y1="472.4" x2="717.1" y2="472.4" stroke="#111" stroke-width="1.2"/>
<text transform="translate(758.7 548.9) rotate(-90)" font-size="14.4" font-weight="bold" font-family='"Liberation Sans", sans-serif' text-anchor="middle" fill="#111" textLength="69" lengthAdjust="spacingAndGlyphs">DTG (a. u.)</text>
<line x1="451" y1="465.5" x2="472.3" y2="465.5" stroke="#333" stroke-width="1.5"/>
<text x="475.1" y="468.5" font-size="10" font-weight="normal" font-family='"Liberation Sans", sans-serif' text-anchor="start" fill="#111" textLength="19.2" lengthAdjust="spacingAndGlyphs">TDS</text>
<line x1="456.5" y1="477.8" x2="470" y2="477.8" stroke="#999" stroke-width="1" stroke-dasharray="1.5 1"/>
<text x="475.1" y="480.8" font-size="10" font-weight="bold" font-family='"Liberation Sans", sans-serif' text-anchor="start" fill="#111" textLength="19.2" lengthAdjust="spacingAndGlyphs">DSC</text>
<line x1="456.5" y1="487.2" x2="470" y2="487.2" stroke="#333" stroke-width="1.2" stroke-dasharray="5.5 1.8 1.2 1.8"/>
<text x="475.1" y="490.2" font-size="10" font-weight="normal" font-family='"Liberation Sans", sans-serif' text-anchor="start" fill="#111" textLength="19.2" lengthAdjust="spacingAndGlyphs">DTG</text>
<text x="674.4" y="468.1" font-size="11.2" font-family='"Liberation Sans", sans-serif' text-anchor="end" fill="#111" textLength="68.6" lengthAdjust="spacingAndGlyphs"><tspan font-weight="bold">(d) 10</tspan><tspan font-weight="normal"> °C/min</tspan></text>
<clipPath id="clipd"><rect x="441.6" y="452" width="237.3" height="176.8"/></clipPath>
<g clip-path="url(#clipd)">
<path d="M441.6 625 C447.6 625.1 468.1 625.9 477.4 625.8 C486.6 625.7 492.1 625 497.1 624.5 C502.1 624 505.1 623.1 507.6 622.6 C510.1 622.1 510 622.9 512 621.5 C514 620.1 517.7 616.2 519.7 614.5 C521.7 612.8 522.7 612.4 524 611.5 C525.3 610.6 526.4 611.7 527.4 609 C528.4 606.3 529 599.9 530 595.2 C531 590.6 532.1 585.2 533.2 581.1 C534.3 577 535.3 573.5 536.4 570.8 C537.5 568.1 538.5 566.1 539.6 565 C540.7 563.9 541.9 564.4 542.8 564.4 C543.7 564.4 544.1 564 545 565 C545.9 566 547.3 568.8 548.3 570.3 C549.3 571.8 550.2 574.9 551.2 573.9 C552.2 572.9 553.3 569.5 554.4 564.3 C555.5 559.1 556.7 550.6 558 542.5 C559.3 534.4 561.1 523.5 562.4 515.9 C563.7 508.2 564.7 501 565.7 496.6 C566.7 492.2 567.6 488.1 568.4 489.3 C569.2 490.5 569.9 497 570.6 503.8 C571.3 510.6 571.6 521.1 572.5 530.4 C573.4 539.7 574.7 551.8 576.1 559.4 C577.5 567 579.3 571.9 581 576.3 C582.7 580.7 583.4 582.3 586.3 585.6 C589.2 588.9 594.3 593.1 598.6 596.2 C602.9 599.3 608.6 602.1 612.2 604.4 C615.8 606.7 617.8 608.3 620.4 610 C623 611.7 625.6 613.4 628 614.5 C630.4 615.6 632.4 616.2 635 616.4 C637.6 616.6 640.6 616.4 643.4 615.8 C646.2 615.2 648.4 613.5 651.9 613 C655.4 612.5 660.4 612.6 664.6 612.6 C668.8 612.6 675.2 612.9 677.3 613" fill="none" stroke="#5a5a5a" stroke-width="0.9"/>
<path d="M441.6 623 C446.3 622.9 461.9 623.3 470 622.5 C478.1 621.7 484.6 619.5 490 618 C495.4 616.5 499.2 615.1 502.3 613.4 C505.4 611.6 506.9 607.6 508.9 607.5 C510.9 607.4 513 612 514.5 612.6 C516 613.2 516.4 612.6 518 611.4 C519.6 610.2 522.2 609.9 524.2 605.3 C526.2 600.7 528.4 590 530.2 583.6 C532 577.2 533.4 570.5 535 566.7 C536.6 562.9 538.1 561.5 539.9 560.6 C541.7 559.7 544 561 545.9 561.4 C547.8 561.8 549.6 565.5 551.2 563.1 C552.8 560.8 554.1 553.9 555.6 547.3 C557.1 540.6 558.8 531.7 560.4 523.2 C562 514.8 564 502.5 565.3 496.6 C566.6 490.8 567.2 486.9 568.4 488.1 C569.6 489.3 571.2 497.9 572.5 503.8 C573.8 509.7 574.7 516 576.1 523.2 C577.5 530.5 579.5 540.8 581 547.3 C582.5 553.8 583 558.7 585 562.2 C587 565.7 590.9 566.5 593.2 568.3 C595.5 570.1 596.6 571 598.6 573.1 C600.6 575.2 603.1 579.3 605.4 581.2 C607.7 583.1 609.7 583.2 612.2 584.6 C614.7 586 618.1 587.5 620.4 589.4 C622.7 591.3 623.5 593.9 625.8 596.2 C628.1 598.5 631.8 601 634 603 C636.2 605 636.9 606.4 639.2 608.5 C641.5 610.6 644.5 614 647.7 615.8 C650.9 617.6 654.7 618.5 658.2 619.4 C661.7 620.3 667 620.8 668.8 621.1" fill="none" stroke="#222" stroke-width="1.3" stroke-dasharray="5 2 1.2 2"/>
<path d="M441.6 620.6 C445.4 620.6 457.1 620.7 464.2 620.6 C471.2 620.5 478.4 620.2 483.9 619.9 C489.4 619.6 493.2 619.2 497.1 618.6 C501.1 618 505.1 616.8 507.6 616 C510.1 615.2 510.4 614.7 512 613.8 C513.6 612.9 515.5 612 517.1 610.6 C518.7 609.2 520.2 607.6 521.6 605.5 C523 603.4 524.4 600.6 525.5 597.8 C526.6 595 527.1 592 528 588.8 C528.9 585.6 529.7 581.9 530.6 578.5 C531.5 575.1 532.4 571.2 533.2 568.2 C534.1 565.2 534.7 562.7 535.7 560.5 C536.7 558.3 538 555.9 539 554.8 C540 553.7 540.5 553.8 541.5 554.1 C542.5 554.4 543.9 556 545 556.7 C546.1 557.4 547.1 558.6 548.3 558.2 C549.5 557.9 550.8 557.2 552 554.6 C553.2 552 554.4 547.7 555.6 542.5 C556.8 537.3 558 529.7 559.2 523.2 C560.4 516.8 561.7 509.2 562.8 503.8 C563.9 498.4 564.8 493.4 565.7 490.5 C566.6 487.6 567.5 486.2 568.4 486.4 C569.3 486.6 570.2 488.5 571.3 491.8 C572.4 495.1 573.5 500.7 574.9 506.3 C576.3 511.9 578.1 519.9 579.8 525.6 C581.5 531.3 583.1 536.2 585 540.4 C586.9 544.5 588.7 547.3 591 550.5 C593.3 553.7 596.3 556.9 598.6 559.5 C600.9 562.1 603 564.1 605 566 C607 567.9 608.9 569.1 610.9 571 C612.9 572.9 615 575.3 617 577.5 C619 579.7 620.5 581.1 623.1 584 C625.7 586.9 629.4 591.6 632.6 594.8 C635.8 598 638.7 600.8 642.1 603 C645.5 605.2 649.1 606.5 653 607.8 C656.9 609 663.5 610 665.6 610.5" fill="none" stroke="#111" stroke-width="1.6" stroke-linejoin="round"/>
<line x1="551.5" y1="511.1" x2="551.5" y2="584.8" stroke="#333" stroke-width="1.1" stroke-dasharray="4 3.6"/>
<line x1="568.4" y1="452" x2="568.4" y2="486.4" stroke="#333" stroke-width="1.1" stroke-dasharray="4 3.6"/>
</g>
<text x="548.3" y="539.5" font-size="11" font-weight="normal" font-family='"Liberation Serif", serif' text-anchor="middle" fill="#2a2a2a">δ</text>
<text x="555.6" y="481.2" font-size="11" font-weight="normal" font-family='"Liberation Serif", serif' text-anchor="middle" fill="#2a2a2a">β+δ</text>
<text x="586.5" y="483" font-size="11" font-weight="normal" font-family='"Liberation Serif", serif' text-anchor="middle" fill="#2a2a2a">β</text>
</svg>
</body></html>
